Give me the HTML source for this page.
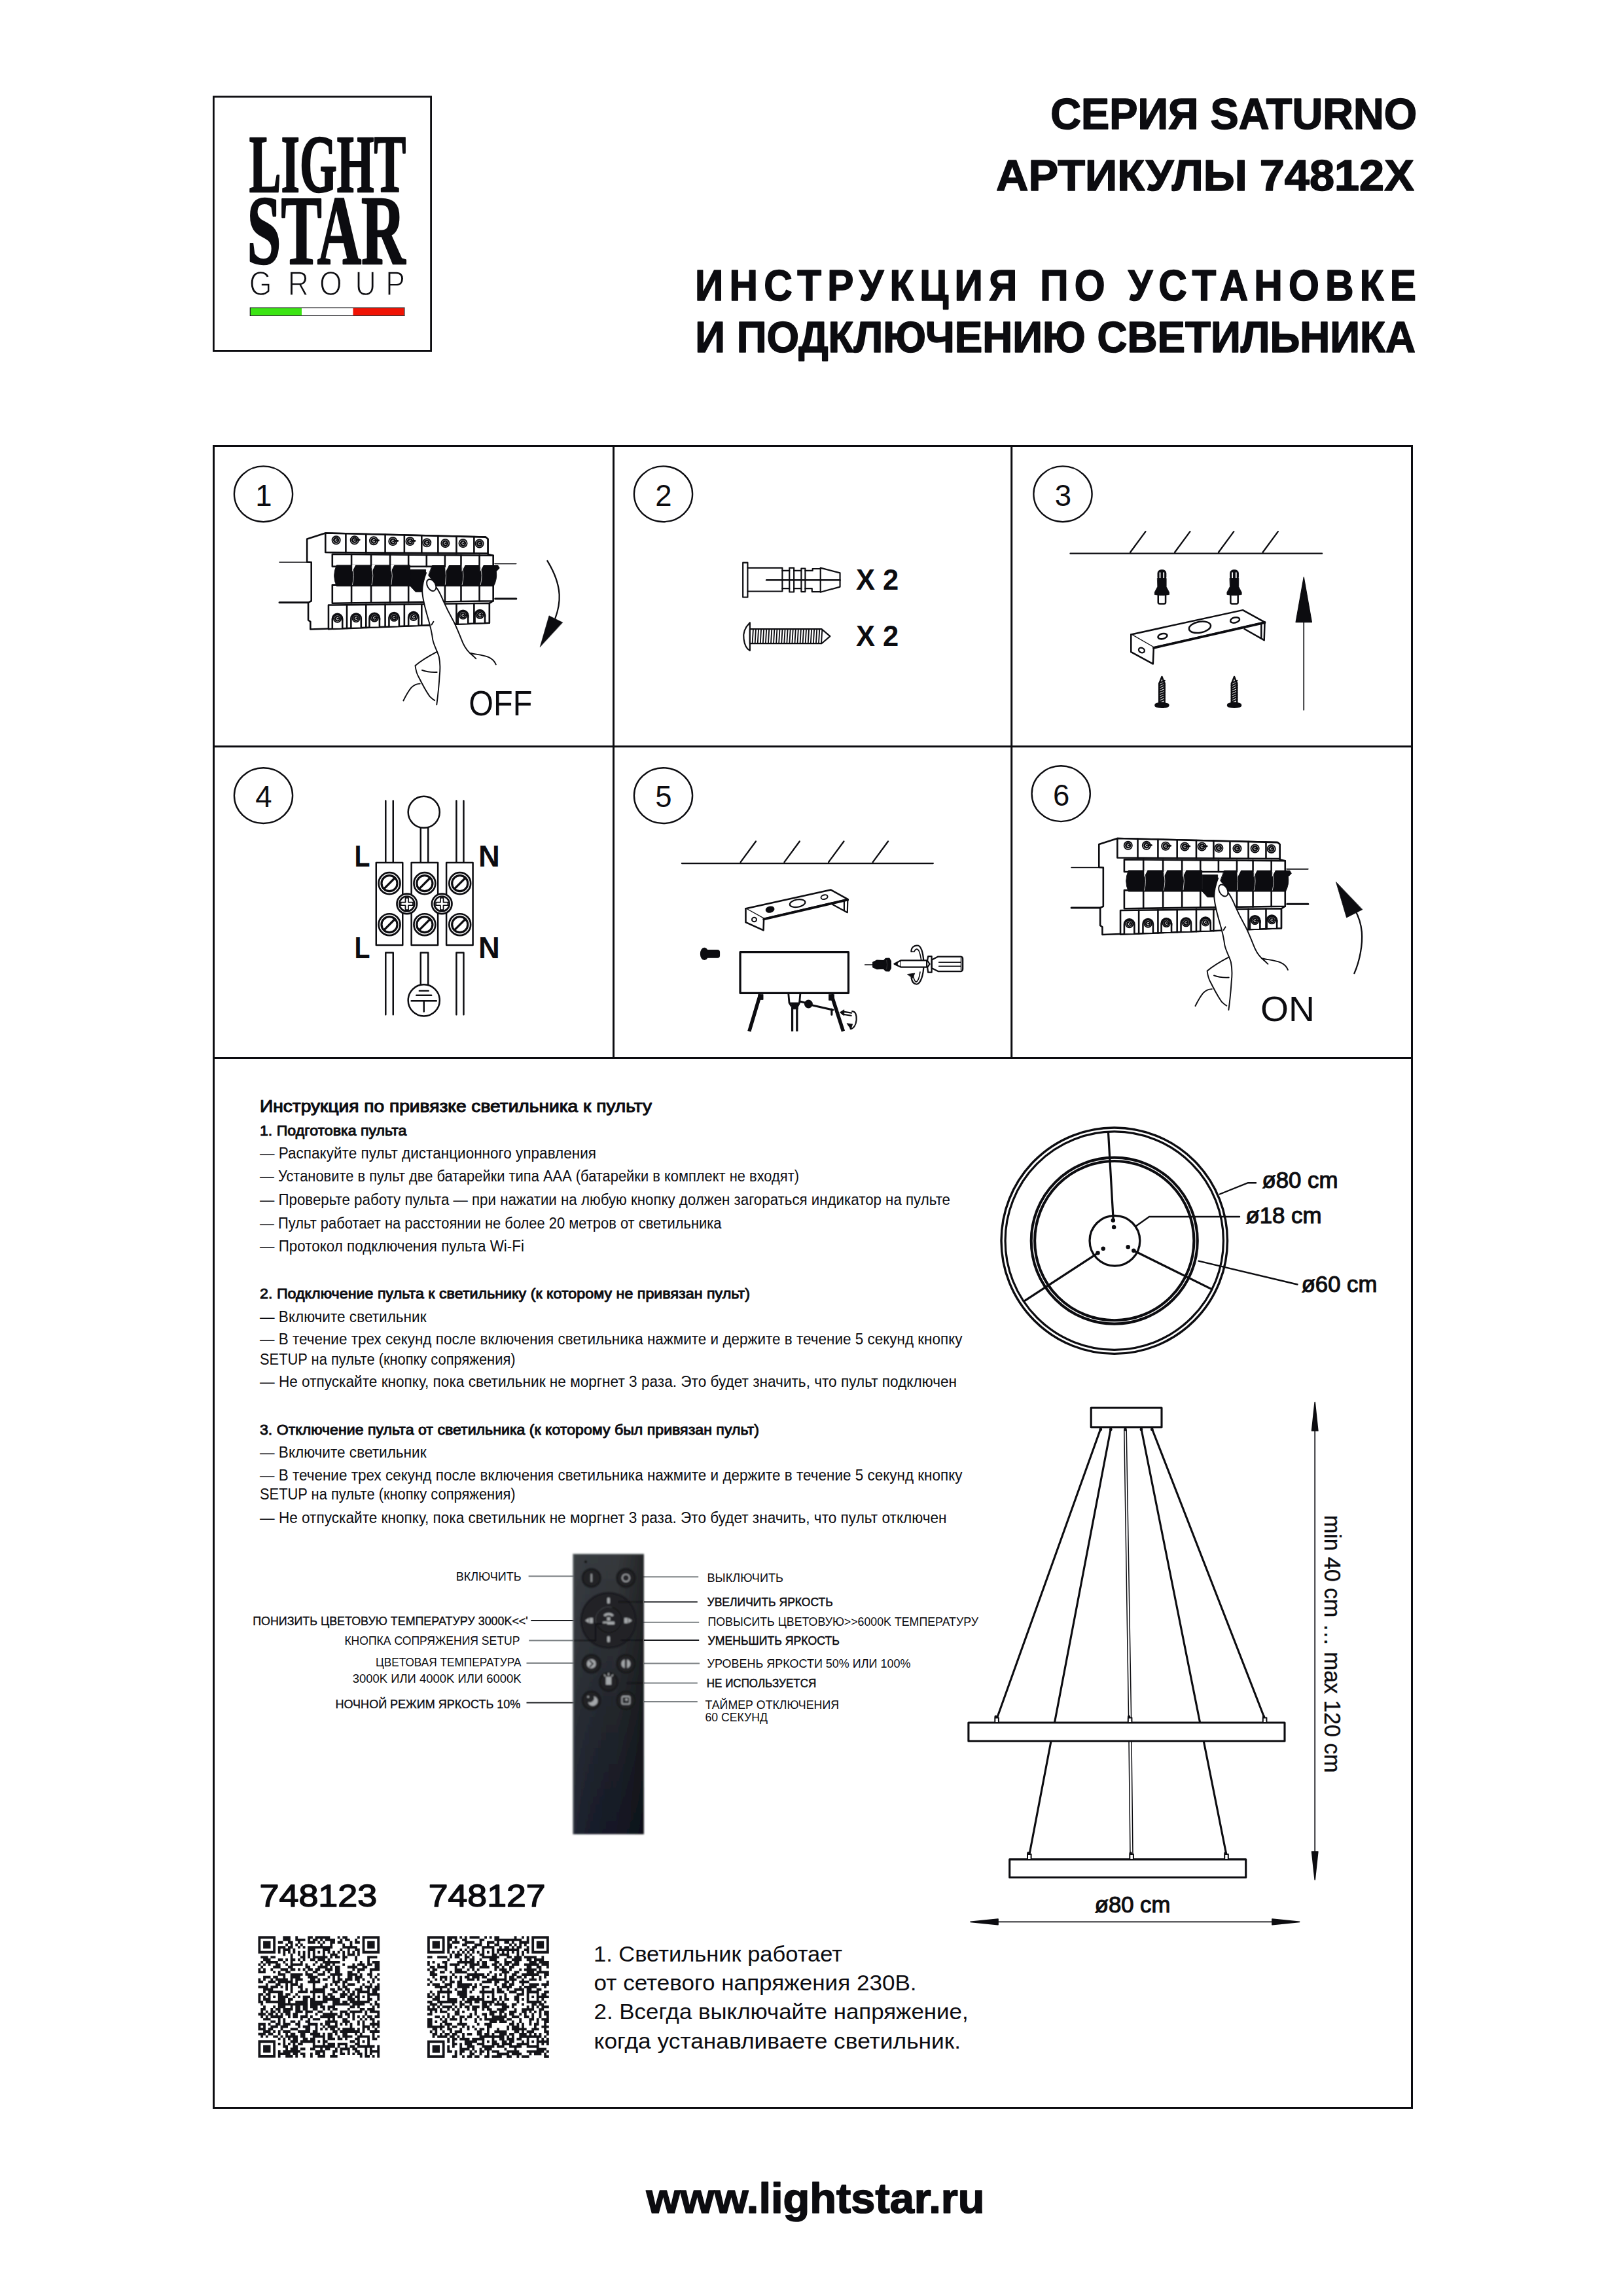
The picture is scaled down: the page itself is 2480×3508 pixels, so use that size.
<!DOCTYPE html>
<html lang="ru">
<head>
<meta charset="utf-8">
<title>Lightstar Saturno 74812X — инструкция по установке и подключению светильника</title>
<style>
html,body{margin:0;padding:0;background:#fff;}
body{width:2480px;height:3508px;overflow:hidden;}
svg{display:block;}
svg text{font-family:'Liberation Sans', sans-serif;fill:#0c0c10;white-space:pre;}
.ln{fill:none;stroke:#0c0c10;stroke-linecap:round;stroke-linejoin:round;}
</style>
</head>
<body>
<svg width="2480" height="3508" viewBox="0 0 2480 3508">
<rect width="2480" height="3508" fill="#fff"/>

<g id="logo">
<rect x="326.4" y="147.8" width="332.2" height="388.6" fill="#fff" stroke="#0c0c10" stroke-width="2.8"/>
<text x="380.8" y="293" font-size="125.5" font-weight="700" style="font-family:'Liberation Serif', serif" textLength="239.5" lengthAdjust="spacingAndGlyphs" stroke="#0c0c10" stroke-width="2.6" stroke-linejoin="round">LIGHT</text>
<text x="377.5" y="403.3" font-size="151" font-weight="700" style="font-family:'Liberation Serif', serif" textLength="242" lengthAdjust="spacingAndGlyphs" stroke="#0c0c10" stroke-width="2.6" stroke-linejoin="round">STAR</text>
<text transform="scale(0.85 1)" x="447.9 517.4 574.1 638.2 693.1" y="451" font-size="52.5" fill="#1a1a1a" stroke="#fff" stroke-width="1.5" paint-order="fill">GROUP</text>
<rect x="382.3" y="470.2" width="235.6" height="12.2" fill="#fff" stroke="#0c0c10" stroke-width="1.2"/>
<rect x="383" y="470.9" width="78" height="10.8" fill="#3be413"/>
<rect x="539.5" y="470.9" width="77.8" height="10.8" fill="#f01304"/>
</g>
<g id="header" font-weight="700" stroke="#0c0c10" stroke-width="1.6" stroke-linejoin="round">
<text x="2165.2" y="197" font-size="66" font-weight="700" text-anchor="end" textLength="560" lengthAdjust="spacingAndGlyphs">СЕРИЯ SATURNO</text>
<text x="2160.8" y="291.3" font-size="66" font-weight="700" text-anchor="end" textLength="638.8" lengthAdjust="spacingAndGlyphs">АРТИКУЛЫ 74812X</text>
<text x="2173" y="458.8" font-size="66" font-weight="700" text-anchor="end" textLength="1111" lengthAdjust="spacingAndGlyphs" letter-spacing="10">ИНСТРУКЦИЯ ПО УСТАНОВКЕ</text>
<text x="2163" y="538" font-size="66" font-weight="700" text-anchor="end" textLength="1100.8" lengthAdjust="spacingAndGlyphs">И ПОДКЛЮЧЕНИЮ СВЕТИЛЬНИКА</text>
</g>
<g id="frame" fill="none" stroke="#0c0c10" stroke-width="3">
<rect x="326.5" y="681.5" width="1831" height="2539"/>
<path d="M326.5 1140.4H2157.5M326.5 1616.4H2157.5M937.5 681.5V1616.4M1545.7 681.5V1616.4"/>
</g>
<g id="steps" fill="none" stroke="#0c0c10" stroke-width="2.4">
<ellipse cx="402.5" cy="754.8" rx="44.6" ry="42.4"/>
<ellipse cx="1013.5" cy="754.8" rx="44.6" ry="42.4"/>
<ellipse cx="1624" cy="754.8" rx="44.6" ry="42.4"/>
<ellipse cx="402.5" cy="1215.6" rx="44.6" ry="42.4"/>
<ellipse cx="1013.5" cy="1215.6" rx="44.6" ry="42.4"/>
<ellipse cx="1621.2" cy="1212.7" rx="44.6" ry="42.4"/>
</g>
<text x="403.0" y="772.5999999999999" font-size="45.5" text-anchor="middle" fill="#151515">1</text>
<text x="1014.0" y="772.5999999999999" font-size="45.5" text-anchor="middle" fill="#151515">2</text>
<text x="1624.5" y="772.5999999999999" font-size="45.5" text-anchor="middle" fill="#151515">3</text>
<text x="403.0" y="1233.3999999999999" font-size="45.5" text-anchor="middle" fill="#151515">4</text>
<text x="1014.0" y="1233.3999999999999" font-size="45.5" text-anchor="middle" fill="#151515">5</text>
<text x="1621.7" y="1230.5" font-size="45.5" text-anchor="middle" fill="#151515">6</text>
<g id="panel1">
<g transform="translate(420,800) scale(0.23414)" fill="none" stroke="#0c0c10" stroke-width="11" stroke-linejoin="round" stroke-linecap="round">
<path d="M30 252H238M1435 262H1575" stroke-width="7"/>
<path d="M30 515H222M1438 490H1575" stroke-width="13"/>
<path fill="#fff" d="M330 62L1375 88L1390 100V200L1425 208V505L1400 520V648L232 690V640L218 630V515L238 505V252L210 250V100Z"/>
<path fill="#fff" d="M330 62L1375 88L1390 100V195L330 188Z"/>
<path d="M463 65V189M595 69V190M720 72V191M845 75V191M958 78V192M1065 80V193M1185 83V194M1300 86V194"/>
<path fill="#fff" d="M375 200L1425 208V280H375Z"/>
<path d="M500 201V280M628 202V280M752 203V280M872 204V280M990 205V280M1110 206V280M1215 206V280M1335 207V280"/>
<path fill="#fff" d="M375 400H1425V505L375 520Z"/>
<path d="M500 400V518M628 400V516M752 400V515M872 400V513M990 400V511M1110 400V510M1215 400V508M1335 400V506"/>
<path fill="#0c0c10" stroke-width="4" d="M402 272Q372 340 402 408H882V272Z"/>
<path fill="#0c0c10" stroke-width="4" d="M884 300H985L978 445H918L884 408Z"/>
<path fill="#0c0c10" stroke-width="4" d="M1028 272H1455L1466 290L1445 312Q1452 362 1428 408H1045L1003 338Z"/>
<path fill="#fff" stroke="none" d="M505 268H528L505 314ZM633 268H656L633 314ZM757 268H780L757 314ZM1115 268H1138L1115 314ZM1220 268H1243L1220 314ZM1340 268H1363L1340 314Z"/>
<path stroke="#c9c9c9" stroke-width="4" d="M506 282Q522 340 506 400M632 282Q648 340 632 400M760 285Q772 340 760 398M1222 282Q1238 340 1222 400M1342 282Q1358 340 1342 400M1112 285Q1122 340 1112 398"/>
<path fill="#fff" d="M350 532L1400 520V648L350 688Z"/>
<path d="M470 531V683M595 529V679M720 528V674M845 526V669M958 525V665M1185 522V656M1300 521V652"/>
<circle cx="400" cy="108" r="26" fill="#fff" stroke-width="8"/>
<circle cx="400" cy="108" r="20" fill="#0c0c10" stroke="none"/>
<path d="M405 101a8 8 0 1 0 2 13" stroke="#fff" stroke-width="4"/>
<circle cx="520" cy="108" r="26" fill="#fff" stroke-width="8"/>
<circle cx="520" cy="108" r="20" fill="#0c0c10" stroke="none"/>
<path d="M530 106h22" stroke="#0c0c10" stroke-width="12"/>
<path d="M525 101a8 8 0 1 0 2 13" stroke="#fff" stroke-width="4"/>
<circle cx="645" cy="112" r="26" fill="#fff" stroke-width="8"/>
<circle cx="645" cy="112" r="20" fill="#0c0c10" stroke="none"/>
<path d="M655 110h22" stroke="#0c0c10" stroke-width="12"/>
<path d="M650 105a8 8 0 1 0 2 13" stroke="#fff" stroke-width="4"/>
<circle cx="770" cy="115" r="26" fill="#fff" stroke-width="8"/>
<circle cx="770" cy="115" r="20" fill="#0c0c10" stroke="none"/>
<path d="M780 113h22" stroke="#0c0c10" stroke-width="12"/>
<path d="M775 108a8 8 0 1 0 2 13" stroke="#fff" stroke-width="4"/>
<circle cx="882" cy="115" r="26" fill="#fff" stroke-width="8"/>
<circle cx="882" cy="115" r="20" fill="#0c0c10" stroke="none"/>
<path d="M892 113h22" stroke="#0c0c10" stroke-width="12"/>
<path d="M887 108a8 8 0 1 0 2 13" stroke="#fff" stroke-width="4"/>
<circle cx="992" cy="125" r="26" fill="#fff" stroke-width="8"/>
<circle cx="992" cy="125" r="20" fill="#0c0c10" stroke="none"/>
<path d="M997 118a8 8 0 1 0 2 13" stroke="#fff" stroke-width="4"/>
<circle cx="1112" cy="128" r="26" fill="#fff" stroke-width="8"/>
<circle cx="1112" cy="128" r="20" fill="#0c0c10" stroke="none"/>
<path d="M1117 121a8 8 0 1 0 2 13" stroke="#fff" stroke-width="4"/>
<circle cx="1228" cy="128" r="26" fill="#fff" stroke-width="8"/>
<circle cx="1228" cy="128" r="20" fill="#0c0c10" stroke="none"/>
<path d="M1233 121a8 8 0 1 0 2 13" stroke="#fff" stroke-width="4"/>
<circle cx="1335" cy="130" r="26" fill="#fff" stroke-width="8"/>
<circle cx="1335" cy="130" r="20" fill="#0c0c10" stroke="none"/>
<path d="M1340 123a8 8 0 1 0 2 13" stroke="#fff" stroke-width="4"/>
<path fill="#fff" d="M375 682V622A33 33 0 0 1 441 622V682"/>
<circle cx="408" cy="620" r="24" fill="#fff" stroke-width="8"/>
<circle cx="408" cy="620" r="19" fill="#0c0c10" stroke="none"/>
<path d="M413 613a8 8 0 1 0 2 13" stroke="#fff" stroke-width="4"/>
<path fill="#fff" d="M497 677V620A33 33 0 0 1 563 620V677"/>
<circle cx="530" cy="618" r="24" fill="#fff" stroke-width="8"/>
<circle cx="530" cy="618" r="19" fill="#0c0c10" stroke="none"/>
<path d="M535 611a8 8 0 1 0 2 13" stroke="#fff" stroke-width="4"/>
<path fill="#fff" d="M617 673V617A33 33 0 0 1 683 617V673"/>
<circle cx="650" cy="615" r="24" fill="#fff" stroke-width="8"/>
<circle cx="650" cy="615" r="19" fill="#0c0c10" stroke="none"/>
<path d="M660 615h24v14" stroke="#0c0c10" stroke-width="9"/>
<path d="M655 608a8 8 0 1 0 2 13" stroke="#fff" stroke-width="4"/>
<path fill="#fff" d="M745 668V614A33 33 0 0 1 811 614V668"/>
<circle cx="778" cy="612" r="24" fill="#fff" stroke-width="8"/>
<circle cx="778" cy="612" r="19" fill="#0c0c10" stroke="none"/>
<path d="M783 605a8 8 0 1 0 2 13" stroke="#fff" stroke-width="4"/>
<path fill="#fff" d="M872 663V610A33 33 0 0 1 938 610V663"/>
<circle cx="905" cy="608" r="24" fill="#fff" stroke-width="8"/>
<circle cx="905" cy="608" r="19" fill="#0c0c10" stroke="none"/>
<path d="M910 601a8 8 0 1 0 2 13" stroke="#fff" stroke-width="4"/>
<path fill="#fff" d="M1195 651V600A33 33 0 0 1 1261 600V651"/>
<circle cx="1228" cy="598" r="24" fill="#fff" stroke-width="8"/>
<circle cx="1228" cy="598" r="19" fill="#0c0c10" stroke="none"/>
<path d="M1238 598h24v14" stroke="#0c0c10" stroke-width="9"/>
<path d="M1233 591a8 8 0 1 0 2 13" stroke="#fff" stroke-width="4"/>
<path fill="#fff" d="M1305 646V597A33 33 0 0 1 1371 597V646"/>
<circle cx="1338" cy="595" r="24" fill="#fff" stroke-width="8"/>
<circle cx="1338" cy="595" r="19" fill="#0c0c10" stroke="none"/>
<path d="M1348 595h24v14" stroke="#0c0c10" stroke-width="9"/>
<path d="M1343 588a8 8 0 1 0 2 13" stroke="#fff" stroke-width="4"/>
</g>
<g transform="translate(600,860) scale(0.17253)" fill="none" stroke="#0c0c10" stroke-width="11" stroke-linejoin="round" stroke-linecap="round">
<path fill="#fff" stroke="none" d="M295 95L270 180L262 250L285 390L310 480L340 570L355 680L385 760L640 750L610 680L575 590L530 500L480 410L450 340L420 270L385 215L350 150Z"/>
<path d="M296 88C280 130 262 190 262 250C264 310 290 410 310 480C325 530 345 600 355 680C365 730 395 780 410 830C420 880 420 960 415 1000C412 1060 400 1180 390 1255"/>
<path d="M345 548L362 520"/>
<path d="M385 215C400 235 430 290 450 340C470 385 505 455 530 500C550 535 590 630 610 680C625 720 640 755 680 795C700 812 720 830 738 848"/>
<path d="M690 800C730 810 800 815 850 835C880 848 905 875 915 900"/>
<ellipse cx="343" cy="197" rx="36" ry="56" transform="rotate(-28 343 197)" fill="#fff"/>
<path d="M392 788C350 810 260 860 200 910C205 950 215 985 230 1010C250 1050 290 1130 330 1185C345 1200 360 1212 372 1218"/>
<path d="M260 950C290 962 340 970 392 968"/>
<path d="M95 1220C110 1190 135 1140 165 1105C185 1085 215 1070 242 1070"/>
</g>
<g transform="translate(600,860) scale(0.17253)" stroke="#0c0c10" stroke-width="13" fill="none" stroke-linecap="round"><path d="M1370 -18C1430 80 1470 180 1476 280C1480 360 1462 430 1440 490"/><path d="M1305 745L1385 468L1505 527Z" fill="#0c0c10" stroke-width="3" stroke-linejoin="round"/></g>
<text x="716.3" y="1092.9" font-size="53" textLength="97" lengthAdjust="spacingAndGlyphs" fill="#151515">OFF</text>
</g>
<g id="panel2">
<g transform="translate(1120,840) scale(0.17253)" fill="none" stroke="#0c0c10" stroke-width="12.5" stroke-linejoin="round" stroke-linecap="round">
<rect x="88" y="114" width="42" height="306" fill="#fff"/>
<path d="M130 160H437V185H500M130 368H437V343H500M540 185H605M540 343H605M640 185H705V168H775M640 343H700V372H775" />
<rect x="500" y="160" width="40" height="214" />
<rect x="605" y="165" width="35" height="207" />
<path d="M437 185V343M775 160V375M775 160L948 205V328L775 375"/>
<path d="M297 268H948" stroke-width="15"/>
<path fill="#fff" d="M150 645C105 690 88 740 96 790C102 840 122 878 150 893Z"/>
<path fill="#fff" d="M150 702H785L860 766L785 830H150Z"/>
<path d="M179 708L172 824M202.5 708L195.5 824M226.0 708L219.0 824M249.5 708L242.5 824M273.0 708L266.0 824M296.5 708L289.5 824M320.0 708L313.0 824M343.5 708L336.5 824M367.0 708L360.0 824M390.5 708L383.5 824M414.0 708L407.0 824M437.5 708L430.5 824M461.0 708L454.0 824M484.5 708L477.5 824M508.0 708L501.0 824M531.5 708L524.5 824M555.0 708L548.0 824M578.5 708L571.5 824M602.0 708L595.0 824M625.5 708L618.5 824M649.0 708L642.0 824M672.5 708L665.5 824M696.0 708L689.0 824M719.5 708L712.5 824M743.0 708L736.0 824M766.5 708L759.5 824M790.0 708L783.0 824" stroke-width="10.5"/>
</g>
<text x="1308" y="901.2" font-size="44.6" font-weight="700" textLength="65.3" lengthAdjust="spacingAndGlyphs" fill="#151515">X 2</text>
<text x="1308" y="986.7" font-size="44.6" font-weight="700" textLength="65.3" lengthAdjust="spacingAndGlyphs" fill="#151515">X 2</text>
</g>
<g id="panel3">
<g transform="translate(1540,670) scale(0.38197)" fill="none" stroke="#0c0c10" stroke-width="6" stroke-linecap="round">
<path d="M250 460H1257M490 455l61 -83M668 455l61 -83M843 455l61 -83M1020 455l61 -83"/></g>
<g transform="translate(1700,850) scale(0.20949)" fill="none" stroke="#0c0c10" stroke-width="12" stroke-linejoin="round" stroke-linecap="round">
<rect x="327" y="97" width="66" height="80" rx="27" fill="#0c0c10" stroke="none"/>
<rect x="342" y="116" width="8.5" height="47" rx="4" fill="#fff" stroke="none"/><rect x="369" y="116" width="8.5" height="47" rx="4" fill="#fff" stroke="none"/>
<path fill="#0c0c10" stroke-width="4" d="M328 160H392V222L413 262V279Q360 292 307 279V262L328 222Z"/>
<path fill="#fff" d="M333 287V335Q333 346 344 346H376Q387 346 387 335V287"/>
<path fill="#fff" d="M360 878L380 930V1068H340V930Z"/>
<path d="M340 925L380 907M340 942L380 924M340 959L380 941M340 976L380 958M340 993L380 975M340 1010L380 992M340 1027L380 1009M340 1044L380 1026M340 1061L380 1043" stroke-width="11.5"/>
<ellipse cx="360" cy="1086" rx="48" ry="15" fill="#0c0c10"/>
<rect x="855" y="97" width="66" height="80" rx="27" fill="#0c0c10" stroke="none"/>
<rect x="870" y="116" width="8.5" height="47" rx="4" fill="#fff" stroke="none"/><rect x="897" y="116" width="8.5" height="47" rx="4" fill="#fff" stroke="none"/>
<path fill="#0c0c10" stroke-width="4" d="M856 160H920V222L941 262V279Q888 292 835 279V262L856 222Z"/>
<path fill="#fff" d="M861 287V335Q861 346 872 346H904Q915 346 915 335V287"/>
<path fill="#fff" d="M888 878L908 930V1068H868V930Z"/>
<path d="M868 925L908 907M868 942L908 924M868 959L908 941M868 976L908 958M868 993L908 975M868 1010L908 992M868 1027L908 1009M868 1044L908 1026M868 1061L908 1043" stroke-width="11.5"/>
<ellipse cx="888" cy="1086" rx="48" ry="15" fill="#0c0c10"/>
<path fill="#fff" d="M135 570L950 392L1110 480L300 665Z"/>
<path fill="#fff" d="M135 570V698L295 785L300 665"/>
<path d="M300 668L1110 483" stroke-width="17"/>
<path d="M1110 480L1106 612L962 530M1085 497V596" />
<ellipse cx="365" cy="583" rx="34" ry="19" transform="rotate(-14 365 583)" stroke-width="12"/>
<ellipse cx="637" cy="517" rx="80" ry="40" transform="rotate(-10 637 517)" stroke-width="12"/>
<ellipse cx="893" cy="465" rx="34" ry="19" transform="rotate(-14 893 465)" stroke-width="12"/>
<ellipse cx="212" cy="685" rx="22" ry="17" transform="rotate(25 212 685)" stroke-width="11"/>
<path d="M1395 470V1120" stroke-width="8"/>
<path d="M1395 152L1337 480H1453Z" fill="#0c0c10" stroke-width="6"/>
</g></g>
<g id="panel4">
<g transform="translate(320,1130) scale(0.38197)" fill="none" stroke="#0c0c10" stroke-width="6.5" stroke-linejoin="round" stroke-linecap="round">
<path d="M705 245V492M735 245V492M988 245V492M1017 245V492M845 350V492M875 350V492"/>
<circle cx="858" cy="290" r="63" fill="#fff"/>
<rect x="667" y="492" width="106" height="330" fill="#fff"/>
<rect x="808" y="492" width="106" height="330" fill="#fff"/>
<rect x="948" y="492" width="106" height="330" fill="#fff"/>
<path d="M705 1100V852H735V1100M988 1100V852H1017V1100M845 985V852H875V985"/>
<circle cx="720" cy="575" r="43" fill="#fff" stroke-width="7"/>
<circle cx="720" cy="575" r="31.5" stroke-width="8.5"/>
<path d="M698 597L742 553" stroke-width="8.5"/>
<circle cx="720" cy="740" r="43" fill="#fff" stroke-width="7"/>
<circle cx="720" cy="740" r="31.5" stroke-width="8.5"/>
<path d="M698 762L742 718" stroke-width="8.5"/>
<circle cx="861" cy="575" r="43" fill="#fff" stroke-width="7"/>
<circle cx="861" cy="575" r="31.5" stroke-width="8.5"/>
<path d="M839 597L883 553" stroke-width="8.5"/>
<circle cx="861" cy="740" r="43" fill="#fff" stroke-width="7"/>
<circle cx="861" cy="740" r="31.5" stroke-width="8.5"/>
<path d="M839 762L883 718" stroke-width="8.5"/>
<circle cx="1002" cy="575" r="43" fill="#fff" stroke-width="7"/>
<circle cx="1002" cy="575" r="31.5" stroke-width="8.5"/>
<path d="M980 597L1024 553" stroke-width="8.5"/>
<circle cx="1002" cy="740" r="43" fill="#fff" stroke-width="7"/>
<circle cx="1002" cy="740" r="31.5" stroke-width="8.5"/>
<path d="M980 762L1024 718" stroke-width="8.5"/>
<circle cx="790" cy="657" r="40" fill="#fff" stroke-width="7"/>
<circle cx="790" cy="657" r="30" stroke-width="7"/>
<path d="M784 633h12v18h18v12h-18v18h-12v-18h-18v-12h18z" stroke-width="4.5"/>
<circle cx="930" cy="657" r="40" fill="#fff" stroke-width="7"/>
<circle cx="930" cy="657" r="30" stroke-width="7"/>
<path d="M924 633h12v18h18v12h-18v18h-12v-18h-18v-12h18z" stroke-width="4.5"/>
<circle cx="858" cy="1043" r="63" fill="#fff"/>
<path d="M840 1005H876M828 1023H888M808 1045H908M858 1045V1088"/>
</g>
<text x="541.5" y="1323.7" font-size="45.4" font-weight="700" textLength="24" lengthAdjust="spacingAndGlyphs">L</text>
<text x="541.5" y="1464.2" font-size="45.4" font-weight="700" textLength="24" lengthAdjust="spacingAndGlyphs">L</text>
<text x="731" y="1323.7" font-size="45.4" font-weight="700">N</text>
<text x="731" y="1464.2" font-size="45.4" font-weight="700">N</text>
</g>
<g id="panel5">
<g transform="translate(930,1130) scale(0.38197)" fill="none" stroke="#0c0c10" stroke-width="6" stroke-linecap="round">
<path d="M293 495H1298M528 490l61 -83M703 490l61 -83M880 490l61 -83M1057 490l61 -83"/></g>
<g transform="translate(1050,1340) scale(0.27111)" fill="none" stroke="#0c0c10" stroke-width="9.5" stroke-linejoin="round" stroke-linecap="round">
<path fill="#fff" d="M330 178L810 72L905 125L432 235Z"/>
<path fill="#fff" d="M330 178V255L430 300L432 235"/>
<path d="M905 125L903 200L820 155M885 137V190" stroke-width="8"/>
<path d="M432 238L905 128" stroke-width="13"/>
<ellipse cx="467" cy="183" rx="21" ry="14" transform="rotate(-14 467 183)" fill="#0c0c10"/>
<ellipse cx="622" cy="148" rx="44" ry="21" transform="rotate(-10 622 148)" stroke-width="8"/>
<ellipse cx="773" cy="113" rx="19" ry="12" transform="rotate(-14 773 113)" stroke-width="7"/>
<ellipse cx="378" cy="240" rx="13" ry="12" stroke-width="7"/>
<rect x="299" y="423" width="610" height="231" fill="#fff" stroke-width="12"/>
</g>
<g transform="translate(1120,1500) scale(0.12939)" fill="none" stroke="#0c0c10" stroke-width="24" stroke-linejoin="round" stroke-linecap="butt">
<path d="M322 150L192 585M1162 150L1302 585" stroke-width="42"/>
<path d="M300 150h56v62h-56zM1132 150h62v68h-62z" fill="#0c0c10" stroke-width="6"/>
<path d="M655 140L665 250L692 292M795 140L785 250L762 292M672 255H782" stroke-width="22"/>
<path d="M694 262h72v60h-72z" fill="#0c0c10" stroke-width="8"/>
<path d="M700 300V585M756 300V585" stroke-width="25"/>
<path d="M790 232L860 250M940 278L1180 332M1166 325V388" stroke-width="24" stroke-linecap="round"/>
<ellipse cx="892" cy="263" rx="50" ry="50" fill="#0c0c10" stroke="none"/>
<path d="M1300 352L1400 368M1296 384L1396 400M1408 348C1450 350 1462 400 1458 450C1452 510 1425 552 1388 556" stroke-width="17" stroke-linecap="round"/>
<path d="M1262 362L1312 330V400Z" fill="#0c0c10" stroke-width="6"/>
<path d="M1345 492L1412 500L1392 560Z" fill="#0c0c10" stroke-width="6"/>
</g>
<g transform="translate(1050,1340) scale(0.27111)" fill="none" stroke="#0c0c10" stroke-width="9.5" stroke-linejoin="round" stroke-linecap="round">
<ellipse cx="97" cy="433" rx="19" ry="31" fill="#0c0c10"/>
<rect x="100" y="414" width="80" height="38" rx="10" fill="#0c0c10"/>
</g>
<g transform="translate(1300,1430) scale(0.11707)" fill="none" stroke="#0c0c10" stroke-width="19" stroke-linejoin="round" stroke-linecap="round">
<path d="M185 375H295" stroke-width="13"/>
<path fill="#0c0c10" d="M292 345L340 322L430 326L458 297L500 295L520 330V420L500 455L458 453L430 424L340 428L292 405Z"/>
<path d="M468 318q14 56 0 116" stroke="#4a4a4a" stroke-width="6"/>
<path d="M790 205C788 150 830 116 882 126C928 142 952 260 952 380C950 500 915 622 860 630C820 630 798 592 790 545"/>
<path d="M790 205H828C845 165 872 158 892 200C915 262 926 330 921 400M905 470C896 540 876 592 852 602C835 590 822 560 815 520" stroke-width="14"/>
<path d="M742 500L835 488L808 548Z" fill="#0c0c10" stroke-width="8"/>
<path fill="#fff" d="M568 366L652 320H992V406H652Z"/>
<path fill="#0c0c10" d="M568 366L610 344V390Z" stroke-width="6"/>
<path d="M652 320V406" stroke-width="9"/>
<path fill="#fff" d="M1010 265H1056V476H1010L1000 410L1030 366L1000 322Z"/>
<path fill="#fff" d="M1058 312L1140 270H1436Q1462 272 1462 300V432Q1462 460 1436 462H1140L1058 420Z"/>
<path d="M1150 344H1440M1150 396H1440M1440 290V442" stroke-width="13"/>
</g></g>
<g id="panel6">
<g transform="translate(1630.1,1266.5) scale(0.23414)" fill="none" stroke="#0c0c10" stroke-width="11" stroke-linejoin="round" stroke-linecap="round">
<path d="M30 252H238M1435 262H1575" stroke-width="7"/>
<path d="M30 515H222M1438 490H1575" stroke-width="13"/>
<path fill="#fff" d="M330 62L1375 88L1390 100V200L1425 208V505L1400 520V648L232 690V640L218 630V515L238 505V252L210 250V100Z"/>
<path fill="#fff" d="M330 62L1375 88L1390 100V195L330 188Z"/>
<path d="M463 65V189M595 69V190M720 72V191M845 75V191M958 78V192M1065 80V193M1185 83V194M1300 86V194"/>
<path fill="#fff" d="M375 200L1425 208V280H375Z"/>
<path d="M500 201V280M628 202V280M752 203V280M872 204V280M990 205V280M1110 206V280M1215 206V280M1335 207V280"/>
<path fill="#fff" d="M375 400H1425V505L375 520Z"/>
<path d="M500 400V518M628 400V516M752 400V515M872 400V513M990 400V511M1110 400V510M1215 400V508M1335 400V506"/>
<path fill="#0c0c10" stroke-width="4" d="M402 272Q372 340 402 408H882V272Z"/>
<path fill="#0c0c10" stroke-width="4" d="M884 300H985L978 445H918L884 408Z"/>
<path fill="#0c0c10" stroke-width="4" d="M1028 272H1455L1466 290L1445 312Q1452 362 1428 408H1045L1003 338Z"/>
<path fill="#fff" stroke="none" d="M505 268H528L505 314ZM633 268H656L633 314ZM757 268H780L757 314ZM1115 268H1138L1115 314ZM1220 268H1243L1220 314ZM1340 268H1363L1340 314Z"/>
<path stroke="#c9c9c9" stroke-width="4" d="M506 282Q522 340 506 400M632 282Q648 340 632 400M760 285Q772 340 760 398M1222 282Q1238 340 1222 400M1342 282Q1358 340 1342 400M1112 285Q1122 340 1112 398"/>
<path fill="#fff" d="M350 532L1400 520V648L350 688Z"/>
<path d="M470 531V683M595 529V679M720 528V674M845 526V669M958 525V665M1185 522V656M1300 521V652"/>
<circle cx="400" cy="108" r="26" fill="#fff" stroke-width="8"/>
<circle cx="400" cy="108" r="20" fill="#0c0c10" stroke="none"/>
<path d="M405 101a8 8 0 1 0 2 13" stroke="#fff" stroke-width="4"/>
<circle cx="520" cy="108" r="26" fill="#fff" stroke-width="8"/>
<circle cx="520" cy="108" r="20" fill="#0c0c10" stroke="none"/>
<path d="M530 106h22" stroke="#0c0c10" stroke-width="12"/>
<path d="M525 101a8 8 0 1 0 2 13" stroke="#fff" stroke-width="4"/>
<circle cx="645" cy="112" r="26" fill="#fff" stroke-width="8"/>
<circle cx="645" cy="112" r="20" fill="#0c0c10" stroke="none"/>
<path d="M655 110h22" stroke="#0c0c10" stroke-width="12"/>
<path d="M650 105a8 8 0 1 0 2 13" stroke="#fff" stroke-width="4"/>
<circle cx="770" cy="115" r="26" fill="#fff" stroke-width="8"/>
<circle cx="770" cy="115" r="20" fill="#0c0c10" stroke="none"/>
<path d="M780 113h22" stroke="#0c0c10" stroke-width="12"/>
<path d="M775 108a8 8 0 1 0 2 13" stroke="#fff" stroke-width="4"/>
<circle cx="882" cy="115" r="26" fill="#fff" stroke-width="8"/>
<circle cx="882" cy="115" r="20" fill="#0c0c10" stroke="none"/>
<path d="M892 113h22" stroke="#0c0c10" stroke-width="12"/>
<path d="M887 108a8 8 0 1 0 2 13" stroke="#fff" stroke-width="4"/>
<circle cx="992" cy="125" r="26" fill="#fff" stroke-width="8"/>
<circle cx="992" cy="125" r="20" fill="#0c0c10" stroke="none"/>
<path d="M997 118a8 8 0 1 0 2 13" stroke="#fff" stroke-width="4"/>
<circle cx="1112" cy="128" r="26" fill="#fff" stroke-width="8"/>
<circle cx="1112" cy="128" r="20" fill="#0c0c10" stroke="none"/>
<path d="M1117 121a8 8 0 1 0 2 13" stroke="#fff" stroke-width="4"/>
<circle cx="1228" cy="128" r="26" fill="#fff" stroke-width="8"/>
<circle cx="1228" cy="128" r="20" fill="#0c0c10" stroke="none"/>
<path d="M1233 121a8 8 0 1 0 2 13" stroke="#fff" stroke-width="4"/>
<circle cx="1335" cy="130" r="26" fill="#fff" stroke-width="8"/>
<circle cx="1335" cy="130" r="20" fill="#0c0c10" stroke="none"/>
<path d="M1340 123a8 8 0 1 0 2 13" stroke="#fff" stroke-width="4"/>
<path fill="#fff" d="M375 682V622A33 33 0 0 1 441 622V682"/>
<circle cx="408" cy="620" r="24" fill="#fff" stroke-width="8"/>
<circle cx="408" cy="620" r="19" fill="#0c0c10" stroke="none"/>
<path d="M413 613a8 8 0 1 0 2 13" stroke="#fff" stroke-width="4"/>
<path fill="#fff" d="M497 677V620A33 33 0 0 1 563 620V677"/>
<circle cx="530" cy="618" r="24" fill="#fff" stroke-width="8"/>
<circle cx="530" cy="618" r="19" fill="#0c0c10" stroke="none"/>
<path d="M535 611a8 8 0 1 0 2 13" stroke="#fff" stroke-width="4"/>
<path fill="#fff" d="M617 673V617A33 33 0 0 1 683 617V673"/>
<circle cx="650" cy="615" r="24" fill="#fff" stroke-width="8"/>
<circle cx="650" cy="615" r="19" fill="#0c0c10" stroke="none"/>
<path d="M660 615h24v14" stroke="#0c0c10" stroke-width="9"/>
<path d="M655 608a8 8 0 1 0 2 13" stroke="#fff" stroke-width="4"/>
<path fill="#fff" d="M745 668V614A33 33 0 0 1 811 614V668"/>
<circle cx="778" cy="612" r="24" fill="#fff" stroke-width="8"/>
<circle cx="778" cy="612" r="19" fill="#0c0c10" stroke="none"/>
<path d="M783 605a8 8 0 1 0 2 13" stroke="#fff" stroke-width="4"/>
<path fill="#fff" d="M872 663V610A33 33 0 0 1 938 610V663"/>
<circle cx="905" cy="608" r="24" fill="#fff" stroke-width="8"/>
<circle cx="905" cy="608" r="19" fill="#0c0c10" stroke="none"/>
<path d="M910 601a8 8 0 1 0 2 13" stroke="#fff" stroke-width="4"/>
<path fill="#fff" d="M1195 651V600A33 33 0 0 1 1261 600V651"/>
<circle cx="1228" cy="598" r="24" fill="#fff" stroke-width="8"/>
<circle cx="1228" cy="598" r="19" fill="#0c0c10" stroke="none"/>
<path d="M1238 598h24v14" stroke="#0c0c10" stroke-width="9"/>
<path d="M1233 591a8 8 0 1 0 2 13" stroke="#fff" stroke-width="4"/>
<path fill="#fff" d="M1305 646V597A33 33 0 0 1 1371 597V646"/>
<circle cx="1338" cy="595" r="24" fill="#fff" stroke-width="8"/>
<circle cx="1338" cy="595" r="19" fill="#0c0c10" stroke="none"/>
<path d="M1348 595h24v14" stroke="#0c0c10" stroke-width="9"/>
<path d="M1343 588a8 8 0 1 0 2 13" stroke="#fff" stroke-width="4"/>
</g>
<g transform="translate(1810.1,1326.5) scale(0.17253)" fill="none" stroke="#0c0c10" stroke-width="11" stroke-linejoin="round" stroke-linecap="round">
<path fill="#fff" stroke="none" d="M295 95L270 180L262 250L285 390L310 480L340 570L355 680L385 760L640 750L610 680L575 590L530 500L480 410L450 340L420 270L385 215L350 150Z"/>
<path d="M296 88C280 130 262 190 262 250C264 310 290 410 310 480C325 530 345 600 355 680C365 730 395 780 410 830C420 880 420 960 415 1000C412 1060 400 1180 390 1255"/>
<path d="M345 548L362 520"/>
<path d="M385 215C400 235 430 290 450 340C470 385 505 455 530 500C550 535 590 630 610 680C625 720 640 755 680 795C700 812 720 830 738 848"/>
<path d="M690 800C730 810 800 815 850 835C880 848 905 875 915 900"/>
<ellipse cx="343" cy="197" rx="36" ry="56" transform="rotate(-28 343 197)" fill="#fff"/>
<path d="M392 788C350 810 260 860 200 910C205 950 215 985 230 1010C250 1050 290 1130 330 1185C345 1200 360 1212 372 1218"/>
<path d="M260 950C290 962 340 970 392 968"/>
<path d="M95 1220C110 1190 135 1140 165 1105C185 1085 215 1070 242 1070"/>
</g>
<g transform="translate(1540,1130) scale(0.38197)" stroke="#0c0c10" stroke-width="6" fill="none" stroke-linecap="round"><path d="M1386 935C1408 885 1420 820 1416 770C1413 735 1402 705 1388 680"/><path d="M1313 570L1355 712L1418 680Z" fill="#0c0c10" stroke-width="2" stroke-linejoin="round"/></g>
<text x="1926" y="1559.7" font-size="53" textLength="83" lengthAdjust="spacingAndGlyphs" fill="#151515">ON</text>
</g>
<g id="rings">
<g transform="translate(1480,1680) scale(0.43129)" fill="none" stroke="#0c0c10" stroke-width="6.5" stroke-linecap="round">
<circle cx="516.5" cy="500" r="400.5" stroke-width="8"/>
<circle cx="516.5" cy="500" r="386.5" stroke-width="7.5"/>
<circle cx="516.5" cy="500" r="294.5" stroke-width="9.5"/>
<circle cx="516.5" cy="500" r="282" stroke-width="9.5"/>
<circle cx="518" cy="500" r="89" stroke-width="7.5"/>
<path d="M495 116L513 430M456 545L200 712M585 535L862 672" stroke-width="7.5"/>
<circle cx="512" cy="428" r="7.5" fill="#0c0c10" stroke="none"/>
<circle cx="515" cy="452" r="7.5" fill="#0c0c10" stroke="none"/>
<circle cx="477" cy="528" r="7.5" fill="#0c0c10" stroke="none"/>
<circle cx="458" cy="543" r="7.5" fill="#0c0c10" stroke="none"/>
<circle cx="565" cy="522" r="7.5" fill="#0c0c10" stroke="none"/>
<circle cx="585" cy="535" r="7.5" fill="#0c0c10" stroke="none"/>
<path d="M890 335L990 295H1018M595 447L640 415H960M815 572L1165 655" stroke-width="5.5"/>
</g>
<text x="1928.5" y="1815.1" font-size="34.5" textLength="116" lengthAdjust="spacingAndGlyphs" fill="#121214" stroke="#121214" stroke-width="1.15" stroke-linejoin="round">ø80 cm</text>
<text x="1903.4" y="1869.4" font-size="34.5" textLength="116" lengthAdjust="spacingAndGlyphs" fill="#121214" stroke="#121214" stroke-width="1.15" stroke-linejoin="round">ø18 cm</text>
<text x="1988.7" y="1973.8" font-size="34.5" textLength="115.6" lengthAdjust="spacingAndGlyphs" fill="#121214" stroke="#121214" stroke-width="1.15" stroke-linejoin="round">ø60 cm</text>
</g>
<g id="pendant">
<g fill="none" stroke="#0c0c10" stroke-width="3.1" stroke-linecap="round" stroke-linejoin="round">
<path d="M1681.8 2183L1523.1 2626M1697.3 2183L1572.8 2834M1743.9 2183L1874 2834M1760.3 2183L1932.6 2626"/>
<path d="M1717.8 2185L1724.6 2626M1721.2 2185L1728.6 2626M1725 2660L1727 2834M1729 2660L1731 2834" stroke-width="1.5"/>
<rect x="1667.2" y="2151" width="107.8" height="29.8" fill="#fff"/>
<circle cx="1681.8" cy="2184" r="2.4" fill="#0c0c10" stroke="none"/>
<circle cx="1697.3" cy="2184" r="2.4" fill="#0c0c10" stroke="none"/>
<circle cx="1719.5" cy="2184" r="2.4" fill="#0c0c10" stroke="none"/>
<circle cx="1743.9" cy="2184" r="2.4" fill="#0c0c10" stroke="none"/>
<circle cx="1760.3" cy="2184" r="2.4" fill="#0c0c10" stroke="none"/>
<rect x="1479.9" y="2632" width="483.1" height="28.2" fill="#fff"/>
<rect x="1542.7" y="2840.9" width="361" height="27.6" fill="#fff"/>
<rect x="1520.3" y="2624.5" width="5.6" height="7.5" fill="#fff" stroke-width="2"/>
<circle cx="1521.6" cy="2623" r="2.2" fill="#0c0c10" stroke="none"/>
<rect x="1723.8" y="2624.5" width="5.6" height="7.5" fill="#fff" stroke-width="2"/>
<circle cx="1725.1" cy="2623" r="2.2" fill="#0c0c10" stroke="none"/>
<rect x="1929.8" y="2624.5" width="5.6" height="7.5" fill="#fff" stroke-width="2"/>
<circle cx="1931.1" cy="2623" r="2.2" fill="#0c0c10" stroke="none"/>
<rect x="1570.0" y="2833" width="5.6" height="7.9" fill="#fff" stroke-width="2"/>
<circle cx="1571.3" cy="2831.5" r="2.2" fill="#0c0c10" stroke="none"/>
<rect x="1726.3" y="2833" width="5.6" height="7.9" fill="#fff" stroke-width="2"/>
<circle cx="1727.6" cy="2831.5" r="2.2" fill="#0c0c10" stroke="none"/>
<rect x="1871.2" y="2833" width="5.6" height="7.9" fill="#fff" stroke-width="2"/>
<circle cx="1872.5" cy="2831.5" r="2.2" fill="#0c0c10" stroke="none"/>
</g>
<g stroke="#0c0c10" stroke-width="1.7" fill="#0c0c10" stroke-linejoin="round">
<path d="M2009.2 2180V2834" fill="none"/>
<path d="M2009.2 2142.5L2004.6 2186H2013.8ZM2009.2 2872L2004.6 2829H2013.8Z"/>
<path d="M1522 2936.3H1946" fill="none"/>
<path d="M1483 2936.3L1525 2932V2940.6ZM1985.7 2936.3L1944 2932V2940.6Z"/>
</g>
<text x="1672.8" y="2922.2" font-size="34.5" textLength="115.5" lengthAdjust="spacingAndGlyphs" fill="#121214" stroke="#121214" stroke-width="1.15" stroke-linejoin="round">ø80 cm</text>
<text transform="translate(2023.7 2315) rotate(90)" font-size="35.5" textLength="393.5" lengthAdjust="spacingAndGlyphs" fill="#121214" stroke="#121214" stroke-width="0.35">min 40 cm … max 120 cm</text>
</g>
<g id="remote">
<defs>
<linearGradient id="rg" x1="0" y1="0" x2="0" y2="1"><stop offset="0" stop-color="#3a3d40"/><stop offset=".3" stop-color="#2f3236"/><stop offset=".6" stop-color="#23272d"/><stop offset="1" stop-color="#151927"/></linearGradient>
<linearGradient id="rh" x1="0" y1="0" x2="1" y2="0"><stop offset="0" stop-color="#8d9699" stop-opacity=".8"/><stop offset=".025" stop-color="#3a3e46" stop-opacity=".3"/><stop offset=".35" stop-color="#222a3a" stop-opacity=".12"/><stop offset=".6" stop-color="#000" stop-opacity=".05"/><stop offset=".9" stop-color="#000" stop-opacity=".28"/><stop offset="1" stop-color="#000" stop-opacity=".4"/></linearGradient>
<radialGradient id="bt" cx=".5" cy=".5" r=".5"><stop offset="0" stop-color="#27282b"/><stop offset=".7" stop-color="#202124"/><stop offset=".88" stop-color="#17181a"/><stop offset="1" stop-color="#17181a" stop-opacity="0"/></radialGradient>
<filter id="sb" x="-5%" y="-5%" width="110%" height="110%"><feGaussianBlur stdDeviation="0.8"/></filter>
</defs>
<g fill="none" stroke-width="2">
<path d="M807.6 2408.3H880M1067.2 2409.3H981" stroke="#7d8285"/>
<path d="M811.3 2476.1H887" stroke="#1b1d20"/>
<path d="M808.2 2506.6H876M804.5 2541.1H889" stroke="#7d8285"/>
<path d="M804.5 2601.5H886" stroke="#1b1d20"/>
<path d="M1065.8 2447.5H984" stroke="#1b1d20"/>
<path d="M1068.2 2478.8H974" stroke="#7d8285"/>
<path d="M1068.2 2506.1H984" stroke="#1b1d20"/>
<path d="M1069 2541.4H984M1065.8 2571.6H984M1065.8 2600H984" stroke="#7d8285"/>
</g>
<g filter="url(#sb)">
<rect x="875.4" y="2374" width="108.4" height="428.4" fill="url(#rg)"/>
<rect x="875.4" y="2374" width="108.4" height="428.4" fill="url(#rh)"/>
<path d="M875.4 2374.3H983.8" stroke="#8b9295" stroke-width="1.2" opacity=".7"/>
<circle cx="895" cy="2386.3" r="2" fill="#08080a"/>
<circle cx="929.9" cy="2475.7" r="43.5" fill="#1d1e21"/>
<circle cx="929.9" cy="2475.7" r="40" fill="#222326"/>
<circle cx="929.9" cy="2474.5" r="21" fill="#1a1b1e"/>
<circle cx="930.5" cy="2475" r="18" fill="#232427"/>
<path d="M911 2480a19.5 19.5 0 0 1 24 -24" fill="none" stroke="#3c3e42" stroke-width="1.6"/>
<circle cx="903.7" cy="2410.9" r="16" fill="url(#bt)"/>
<circle cx="956.4" cy="2410.9" r="16" fill="url(#bt)"/>
<circle cx="903.7" cy="2542" r="16" fill="url(#bt)"/>
<circle cx="956.4" cy="2542" r="16" fill="url(#bt)"/>
<circle cx="929.9" cy="2569.8" r="16" fill="url(#bt)"/>
<circle cx="903.7" cy="2598" r="16" fill="url(#bt)"/>
<circle cx="956.4" cy="2598" r="16" fill="url(#bt)"/>
<path d="M903.7 2404.5V2417" stroke="#a4a7aa" stroke-width="2" fill="none"/>
<circle cx="956.4" cy="2410.9" r="5.6" stroke="#a4a7aa" stroke-width="1.8" fill="none"/>
<g fill="#a4a7aa">
<rect x="927.9" y="2441" width="4" height="9" rx="1.5"/><rect x="927.9" y="2500" width="4" height="9" rx="1.5"/>
<path d="M894 2476l6 -4v8zM901 2472h5v8h-5z"/><path d="M966 2476l-6 -4v8zM954 2472h5v8h-5z"/>
<path d="M922 2468a9 7 0 0 1 16 0l-3 2a6 5 0 0 0 -10 0z"/><rect x="927.5" y="2471" width="5" height="5"/><rect x="921" y="2477.5" width="18" height="4.5" rx="1"/>
<circle cx="903.7" cy="2542" r="7"/><circle cx="956.4" cy="2542" r="7"/>
</g>
<path d="M901 2537l5 5l-5 5" stroke="#1d1e22" stroke-width="2" fill="none"/><path d="M956.4 2535v14" stroke="#1d1e22" stroke-width="3.4"/>
<path d="M926.7 2563h6.4v10h-6.4zM929.9 2556v4M923 2558.5l2.5 3M936.8 2558.5l-2.5 3" stroke="#a4a7aa" stroke-width="1.8" fill="#a4a7aa"/>
<path d="M907 2591.5a7.5 7.5 0 1 1 -8.5 9a6.5 6.5 0 0 0 8.5 -9z" fill="#a4a7aa"/><circle cx="898.8" cy="2592.5" r="1.6" fill="#a4a7aa"/>
<rect x="950.4" y="2592" width="12" height="11.5" rx="2" fill="none" stroke="#a4a7aa" stroke-width="1.9"/><circle cx="957.2" cy="2596.8" r="2" fill="#a4a7aa"/>
<g fill="none" stroke="#0a0b0d" stroke-width="1.5">
<path d="M984 2447.5H944.5M984 2506.1H948.7M984 2571.6H957M876 2506.6H910V2481H928"/>
</g>
</g>
</g>
<g id="instructions">
<text x="397" y="1699" font-size="26.2" textLength="599" lengthAdjust="spacingAndGlyphs" stroke="#0c0c10" stroke-width="1.1" stroke-linejoin="round">Инструкция по привязке светильника к пульту</text>
<text x="397" y="1735" font-size="22.6" textLength="224.5" lengthAdjust="spacingAndGlyphs" stroke="#0c0c10" stroke-width="0.95" stroke-linejoin="round">1. Подготовка пульта</text>
<text x="397" y="1770" font-size="23" textLength="514" lengthAdjust="spacingAndGlyphs">— Распакуйте пульт дистанционного управления</text>
<text x="397" y="1805.3" font-size="23" textLength="824" lengthAdjust="spacingAndGlyphs">— Установите в пульт две батарейки типа ААА (батарейки в комплект не входят)</text>
<text x="397" y="1841" font-size="23" textLength="1055" lengthAdjust="spacingAndGlyphs">— Проверьте работу пульта — при нажатии на любую кнопку должен загораться индикатор на пульте</text>
<text x="397" y="1876.7" font-size="23" textLength="705.5" lengthAdjust="spacingAndGlyphs">— Пульт работает на расстоянии не более 20 метров от светильника</text>
<text x="397" y="1912.4" font-size="23" textLength="404" lengthAdjust="spacingAndGlyphs">— Протокол подключения пульта Wi-Fi</text>
<text x="397" y="1984.2" font-size="22.6" textLength="749" lengthAdjust="spacingAndGlyphs" stroke="#0c0c10" stroke-width="0.95" stroke-linejoin="round">2. Подключение пульта к светильнику (к которому не привязан пульт)</text>
<text x="397" y="2019.6" font-size="23" textLength="254.5" lengthAdjust="spacingAndGlyphs">— Включите светильник</text>
<text x="397" y="2054.4" font-size="23" textLength="1073.5" lengthAdjust="spacingAndGlyphs">— В течение трех секунд после включения светильника нажмите и держите в течение 5 секунд кнопку</text>
<text x="397" y="2084.6" font-size="23" textLength="390.5" lengthAdjust="spacingAndGlyphs">SETUP на пульте (кнопку сопряжения)</text>
<text x="397" y="2119.3" font-size="23" textLength="1065" lengthAdjust="spacingAndGlyphs">— Не отпускайте кнопку, пока светильник не моргнет 3 раза. Это будет значить, что пульт подключен</text>
<text x="397" y="2192" font-size="22.6" textLength="763" lengthAdjust="spacingAndGlyphs" stroke="#0c0c10" stroke-width="0.95" stroke-linejoin="round">3. Отключение пульта от светильника (к которому был привязан пульт)</text>
<text x="397" y="2226.5" font-size="23" textLength="254.5" lengthAdjust="spacingAndGlyphs">— Включите светильник</text>
<text x="397" y="2262.3" font-size="23" textLength="1073.5" lengthAdjust="spacingAndGlyphs">— В течение трех секунд после включения светильника нажмите и держите в течение 5 секунд кнопку</text>
<text x="397" y="2291.4" font-size="23" textLength="390.5" lengthAdjust="spacingAndGlyphs">SETUP на пульте (кнопку сопряжения)</text>
<text x="397" y="2326.6" font-size="23" textLength="1049.5" lengthAdjust="spacingAndGlyphs">— Не отпускайте кнопку, пока светильник не моргнет 3 раза. Это будет значить, что пульт отключен</text>
</g>
<g id="remote-labels">
<text x="796.5" y="2414.8" font-size="19" text-anchor="end" fill="#2a2a2a" textLength="99.8" lengthAdjust="spacingAndGlyphs">ВКЛЮЧИТЬ</text>
<text x="806.7" y="2483.2" font-size="19" text-anchor="end" textLength="420.5" lengthAdjust="spacingAndGlyphs" stroke="#0c0c10" stroke-width="0.35">ПОНИЗИТЬ ЦВЕТОВУЮ ТЕМПЕРАТУРУ 3000K&lt;&lt;'</text>
<text x="794.4" y="2513.1" font-size="19" text-anchor="end" fill="#2a2a2a" textLength="268" lengthAdjust="spacingAndGlyphs">КНОПКА СОПРЯЖЕНИЯ SETUP</text>
<text x="796.5" y="2546.4" font-size="19" text-anchor="end" fill="#2a2a2a" textLength="222.5" lengthAdjust="spacingAndGlyphs">ЦВЕТОВАЯ ТЕМПЕРАТУРА</text>
<text x="796.5" y="2571" font-size="19" text-anchor="end" fill="#2a2a2a" textLength="257.8" lengthAdjust="spacingAndGlyphs">3000K ИЛИ 4000K ИЛИ 6000K</text>
<text x="795.3" y="2610.1" font-size="19" text-anchor="end" textLength="282.8" lengthAdjust="spacingAndGlyphs" stroke="#0c0c10" stroke-width="0.35">НОЧНОЙ РЕЖИМ ЯРКОСТЬ 10%</text>
<text x="1080.5" y="2417.3" font-size="19" fill="#2a2a2a" textLength="116.5" lengthAdjust="spacingAndGlyphs">ВЫКЛЮЧИТЬ</text>
<text x="1080.5" y="2453.9" font-size="19" textLength="192.3" lengthAdjust="spacingAndGlyphs" stroke="#0c0c10" stroke-width="0.5">УВЕЛИЧИТЬ ЯРКОСТЬ</text>
<text x="1081.5" y="2484.1" font-size="19" fill="#2a2a2a" textLength="413.5" lengthAdjust="spacingAndGlyphs">ПОВЫСИТЬ ЦВЕТОВУЮ&gt;&gt;6000K ТЕМПЕРАТУРУ</text>
<text x="1081.5" y="2513.1" font-size="19" textLength="201.3" lengthAdjust="spacingAndGlyphs" stroke="#0c0c10" stroke-width="0.5">УМЕНЬШИТЬ ЯРКОСТЬ</text>
<text x="1080.5" y="2548" font-size="19" fill="#2a2a2a" textLength="311" lengthAdjust="spacingAndGlyphs">УРОВЕНЬ ЯРКОСТИ 50% ИЛИ 100%</text>
<text x="1079.8" y="2578" font-size="19" textLength="167.4" lengthAdjust="spacingAndGlyphs" stroke="#0c0c10" stroke-width="0.5">НЕ ИСПОЛЬЗУЕТСЯ</text>
<text x="1077.5" y="2611.2" font-size="19" fill="#2a2a2a" textLength="204.5" lengthAdjust="spacingAndGlyphs">ТАЙМЕР ОТКЛЮЧЕНИЯ</text>
<text x="1077.5" y="2630.2" font-size="19" fill="#2a2a2a" textLength="95.5" lengthAdjust="spacingAndGlyphs">60 СЕКУНД</text>
</g>
<text x="396.5" y="2913" font-size="47.5" textLength="179.7" lengthAdjust="spacingAndGlyphs" stroke="#0c0c10" stroke-width="1.5" stroke-linejoin="round">748123</text>
<text x="654.8" y="2913" font-size="47.5" textLength="178.7" lengthAdjust="spacingAndGlyphs" stroke="#0c0c10" stroke-width="1.5" stroke-linejoin="round">748127</text>
<g id="qr">
<path d="M394.5 2960.1h26.5M432.4 2960.1h11.4M451.3 2960.1h3.8M470.3 2960.1h7.6M481.6 2960.1h22.7M515.7 2960.1h3.8M523.3 2960.1h7.6M546.0 2960.1h3.8M553.6 2960.1h26.5M394.5 2963.9h3.8M417.2 2963.9h3.8M432.4 2963.9h11.4M451.3 2963.9h15.2M470.3 2963.9h3.8M477.8 2963.9h7.6M489.2 2963.9h3.8M496.8 2963.9h15.2M519.5 2963.9h3.8M527.1 2963.9h7.6M542.2 2963.9h3.8M553.6 2963.9h3.8M576.3 2963.9h3.8M394.5 2967.7h3.8M402.1 2967.7h11.4M417.2 2967.7h3.8M424.8 2967.7h7.6M440.0 2967.7h7.6M455.1 2967.7h3.8M470.3 2967.7h11.4M485.4 2967.7h3.8M493.0 2967.7h3.8M504.3 2967.7h7.6M515.7 2967.7h7.6M534.6 2967.7h3.8M542.2 2967.7h7.6M553.6 2967.7h3.8M561.2 2967.7h11.4M576.3 2967.7h3.8M394.5 2971.5h3.8M402.1 2971.5h11.4M417.2 2971.5h3.8M436.2 2971.5h3.8M443.7 2971.5h3.8M451.3 2971.5h3.8M458.9 2971.5h3.8M489.2 2971.5h3.8M504.3 2971.5h3.8M523.3 2971.5h3.8M534.6 2971.5h3.8M553.6 2971.5h3.8M561.2 2971.5h11.4M576.3 2971.5h3.8M394.5 2975.2h3.8M402.1 2975.2h11.4M417.2 2975.2h3.8M424.8 2975.2h11.4M440.0 2975.2h7.6M455.1 2975.2h3.8M462.7 2975.2h3.8M470.3 2975.2h37.9M523.3 2975.2h22.7M553.6 2975.2h3.8M561.2 2975.2h11.4M576.3 2975.2h3.8M394.5 2979.0h3.8M417.2 2979.0h3.8M424.8 2979.0h3.8M432.4 2979.0h11.4M447.5 2979.0h3.8M470.3 2979.0h11.4M493.0 2979.0h11.4M519.5 2979.0h3.8M530.9 2979.0h3.8M542.2 2979.0h7.6M553.6 2979.0h3.8M576.3 2979.0h3.8M394.5 2982.8h26.5M424.8 2982.8h3.8M432.4 2982.8h3.8M440.0 2982.8h3.8M447.5 2982.8h3.8M455.1 2982.8h3.8M462.7 2982.8h3.8M470.3 2982.8h3.8M477.8 2982.8h3.8M485.4 2982.8h3.8M493.0 2982.8h3.8M500.6 2982.8h3.8M508.1 2982.8h3.8M515.7 2982.8h3.8M523.3 2982.8h3.8M530.9 2982.8h3.8M538.4 2982.8h3.8M546.0 2982.8h3.8M553.6 2982.8h26.5M432.4 2986.6h3.8M443.7 2986.6h3.8M455.1 2986.6h3.8M462.7 2986.6h3.8M470.3 2986.6h3.8M477.8 2986.6h3.8M493.0 2986.6h3.8M504.3 2986.6h11.4M523.3 2986.6h3.8M530.9 2986.6h11.4M546.0 2986.6h3.8M398.3 2990.4h11.4M413.4 2990.4h7.6M443.7 2990.4h3.8M458.9 2990.4h7.6M470.3 2990.4h3.8M477.8 2990.4h22.7M504.3 2990.4h3.8M511.9 2990.4h7.6M523.3 2990.4h7.6M542.2 2990.4h3.8M561.2 2990.4h15.2M402.1 2994.2h11.4M424.8 2994.2h7.6M436.2 2994.2h3.8M443.7 2994.2h7.6M455.1 2994.2h3.8M462.7 2994.2h3.8M474.0 2994.2h7.6M485.4 2994.2h11.4M500.6 2994.2h3.8M523.3 2994.2h3.8M542.2 2994.2h3.8M561.2 2994.2h3.8M398.3 2998.0h3.8M405.9 2998.0h18.9M432.4 2998.0h3.8M443.7 2998.0h3.8M458.9 2998.0h3.8M481.6 2998.0h3.8M493.0 2998.0h26.5M549.8 2998.0h3.8M561.2 2998.0h3.8M568.7 2998.0h11.4M394.5 3001.8h3.8M402.1 3001.8h3.8M409.7 3001.8h3.8M421.0 3001.8h7.6M436.2 3001.8h3.8M443.7 3001.8h18.9M466.5 3001.8h3.8M477.8 3001.8h3.8M489.2 3001.8h3.8M496.8 3001.8h7.6M508.1 3001.8h3.8M523.3 3001.8h3.8M538.4 3001.8h3.8M546.0 3001.8h11.4M561.2 3001.8h7.6M572.5 3001.8h7.6M398.3 3005.5h3.8M417.2 3005.5h11.4M440.0 3005.5h7.6M466.5 3005.5h7.6M485.4 3005.5h15.2M504.3 3005.5h3.8M511.9 3005.5h7.6M530.9 3005.5h15.2M553.6 3005.5h7.6M572.5 3005.5h7.6M394.5 3009.3h3.8M402.1 3009.3h3.8M413.4 3009.3h3.8M428.6 3009.3h11.4M443.7 3009.3h7.6M455.1 3009.3h3.8M462.7 3009.3h3.8M470.3 3009.3h7.6M481.6 3009.3h7.6M496.8 3009.3h11.4M511.9 3009.3h7.6M538.4 3009.3h3.8M546.0 3009.3h11.4M564.9 3009.3h15.2M394.5 3013.1h11.4M417.2 3013.1h3.8M424.8 3013.1h3.8M436.2 3013.1h7.6M466.5 3013.1h3.8M477.8 3013.1h7.6M493.0 3013.1h3.8M500.6 3013.1h3.8M511.9 3013.1h7.6M530.9 3013.1h7.6M546.0 3013.1h3.8M564.9 3013.1h3.8M424.8 3016.9h11.4M443.7 3016.9h18.9M466.5 3016.9h11.4M485.4 3016.9h11.4M504.3 3016.9h18.9M530.9 3016.9h15.2M549.8 3016.9h3.8M561.2 3016.9h7.6M576.3 3016.9h3.8M402.1 3020.7h11.4M417.2 3020.7h7.6M432.4 3020.7h3.8M443.7 3020.7h15.2M470.3 3020.7h15.2M500.6 3020.7h3.8M508.1 3020.7h3.8M515.7 3020.7h3.8M530.9 3020.7h7.6M542.2 3020.7h11.4M564.9 3020.7h3.8M572.5 3020.7h3.8M394.5 3024.5h3.8M402.1 3024.5h3.8M413.4 3024.5h3.8M421.0 3024.5h18.9M443.7 3024.5h3.8M451.3 3024.5h11.4M474.0 3024.5h7.6M485.4 3024.5h3.8M493.0 3024.5h7.6M508.1 3024.5h3.8M515.7 3024.5h7.6M527.1 3024.5h11.4M542.2 3024.5h7.6M553.6 3024.5h3.8M568.7 3024.5h3.8M576.3 3024.5h3.8M394.5 3028.3h7.6M409.7 3028.3h11.4M424.8 3028.3h22.7M451.3 3028.3h3.8M470.3 3028.3h18.9M508.1 3028.3h11.4M523.3 3028.3h7.6M546.0 3028.3h3.8M561.2 3028.3h3.8M568.7 3028.3h3.8M405.9 3032.1h3.8M421.0 3032.1h7.6M436.2 3032.1h3.8M443.7 3032.1h11.4M458.9 3032.1h3.8M477.8 3032.1h3.8M496.8 3032.1h3.8M504.3 3032.1h3.8M511.9 3032.1h3.8M523.3 3032.1h3.8M530.9 3032.1h11.4M553.6 3032.1h3.8M564.9 3032.1h3.8M576.3 3032.1h3.8M394.5 3035.8h15.2M413.4 3035.8h11.4M428.6 3035.8h3.8M436.2 3035.8h3.8M443.7 3035.8h3.8M455.1 3035.8h7.6M477.8 3035.8h3.8M493.0 3035.8h7.6M515.7 3035.8h3.8M523.3 3035.8h7.6M549.8 3035.8h3.8M557.4 3035.8h11.4M572.5 3035.8h7.6M402.1 3039.6h15.2M436.2 3039.6h3.8M443.7 3039.6h3.8M458.9 3039.6h3.8M466.5 3039.6h3.8M477.8 3039.6h18.9M504.3 3039.6h7.6M515.7 3039.6h7.6M527.1 3039.6h7.6M542.2 3039.6h11.4M561.2 3039.6h3.8M568.7 3039.6h11.4M402.1 3043.4h3.8M409.7 3043.4h22.7M443.7 3043.4h3.8M455.1 3043.4h15.2M474.0 3043.4h22.7M508.1 3043.4h7.6M523.3 3043.4h3.8M530.9 3043.4h3.8M538.4 3043.4h3.8M546.0 3043.4h18.9M568.7 3043.4h7.6M394.5 3047.2h7.6M405.9 3047.2h7.6M424.8 3047.2h7.6M436.2 3047.2h7.6M451.3 3047.2h3.8M477.8 3047.2h3.8M493.0 3047.2h3.8M500.6 3047.2h7.6M519.5 3047.2h11.4M534.6 3047.2h7.6M546.0 3047.2h3.8M561.2 3047.2h18.9M394.5 3051.0h3.8M402.1 3051.0h3.8M409.7 3051.0h3.8M417.2 3051.0h3.8M424.8 3051.0h15.2M447.5 3051.0h3.8M455.1 3051.0h3.8M462.7 3051.0h11.4M477.8 3051.0h3.8M485.4 3051.0h3.8M493.0 3051.0h7.6M504.3 3051.0h7.6M519.5 3051.0h7.6M530.9 3051.0h7.6M542.2 3051.0h7.6M553.6 3051.0h3.8M561.2 3051.0h3.8M576.3 3051.0h3.8M394.5 3054.8h3.8M402.1 3054.8h11.4M424.8 3054.8h11.4M440.0 3054.8h7.6M462.7 3054.8h7.6M474.0 3054.8h7.6M493.0 3054.8h26.5M530.9 3054.8h11.4M546.0 3054.8h3.8M561.2 3054.8h7.6M576.3 3054.8h3.8M394.5 3058.6h7.6M405.9 3058.6h30.3M440.0 3058.6h3.8M451.3 3058.6h18.9M474.0 3058.6h26.5M508.1 3058.6h11.4M523.3 3058.6h7.6M534.6 3058.6h30.3M572.5 3058.6h3.8M398.3 3062.4h3.8M424.8 3062.4h45.5M474.0 3062.4h18.9M508.1 3062.4h26.5M538.4 3062.4h18.9M564.9 3062.4h3.8M572.5 3062.4h7.6M402.1 3066.2h3.8M417.2 3066.2h3.8M424.8 3066.2h11.4M443.7 3066.2h3.8M451.3 3066.2h7.6M462.7 3066.2h7.6M474.0 3066.2h11.4M489.2 3066.2h7.6M500.6 3066.2h11.4M534.6 3066.2h7.6M546.0 3066.2h3.8M568.7 3066.2h3.8M576.3 3066.2h3.8M398.3 3069.9h7.6M413.4 3069.9h3.8M421.0 3069.9h7.6M432.4 3069.9h15.2M451.3 3069.9h7.6M462.7 3069.9h7.6M477.8 3069.9h7.6M493.0 3069.9h3.8M500.6 3069.9h3.8M508.1 3069.9h7.6M530.9 3069.9h3.8M549.8 3069.9h7.6M561.2 3069.9h11.4M398.3 3073.7h3.8M405.9 3073.7h3.8M413.4 3073.7h7.6M424.8 3073.7h3.8M432.4 3073.7h11.4M451.3 3073.7h11.4M466.5 3073.7h11.4M485.4 3073.7h7.6M504.3 3073.7h3.8M519.5 3073.7h11.4M534.6 3073.7h18.9M557.4 3073.7h3.8M564.9 3073.7h15.2M394.5 3077.5h11.4M409.7 3077.5h7.6M421.0 3077.5h3.8M428.6 3077.5h3.8M436.2 3077.5h7.6M447.5 3077.5h7.6M466.5 3077.5h3.8M481.6 3077.5h3.8M493.0 3077.5h22.7M519.5 3077.5h3.8M527.1 3077.5h7.6M538.4 3077.5h3.8M557.4 3077.5h3.8M576.3 3077.5h3.8M398.3 3081.3h3.8M405.9 3081.3h3.8M413.4 3081.3h18.9M440.0 3081.3h3.8M447.5 3081.3h7.6M458.9 3081.3h11.4M474.0 3081.3h3.8M489.2 3081.3h22.7M515.7 3081.3h7.6M530.9 3081.3h3.8M538.4 3081.3h3.8M546.0 3081.3h3.8M553.6 3081.3h3.8M561.2 3081.3h7.6M572.5 3081.3h7.6M402.1 3085.1h11.4M424.8 3085.1h3.8M432.4 3085.1h3.8M458.9 3085.1h3.8M470.3 3085.1h3.8M477.8 3085.1h11.4M500.6 3085.1h3.8M508.1 3085.1h3.8M523.3 3085.1h7.6M538.4 3085.1h3.8M549.8 3085.1h3.8M557.4 3085.1h3.8M564.9 3085.1h7.6M413.4 3088.9h7.6M424.8 3088.9h3.8M432.4 3088.9h3.8M443.7 3088.9h7.6M455.1 3088.9h3.8M466.5 3088.9h7.6M496.8 3088.9h18.9M523.3 3088.9h11.4M546.0 3088.9h3.8M553.6 3088.9h3.8M568.7 3088.9h3.8M576.3 3088.9h3.8M394.5 3092.7h11.4M409.7 3092.7h3.8M421.0 3092.7h7.6M432.4 3092.7h11.4M451.3 3092.7h7.6M470.3 3092.7h15.2M489.2 3092.7h3.8M496.8 3092.7h7.6M511.9 3092.7h3.8M519.5 3092.7h3.8M527.1 3092.7h3.8M534.6 3092.7h3.8M546.0 3092.7h3.8M553.6 3092.7h3.8M564.9 3092.7h15.2M394.5 3096.5h3.8M402.1 3096.5h3.8M413.4 3096.5h11.4M428.6 3096.5h11.4M455.1 3096.5h3.8M462.7 3096.5h11.4M481.6 3096.5h3.8M493.0 3096.5h3.8M500.6 3096.5h15.2M534.6 3096.5h3.8M553.6 3096.5h11.4M568.7 3096.5h3.8M576.3 3096.5h3.8M394.5 3100.2h11.4M409.7 3100.2h7.6M428.6 3100.2h3.8M443.7 3100.2h11.4M466.5 3100.2h7.6M481.6 3100.2h3.8M489.2 3100.2h3.8M496.8 3100.2h3.8M504.3 3100.2h7.6M515.7 3100.2h3.8M523.3 3100.2h18.9M546.0 3100.2h3.8M553.6 3100.2h3.8M561.2 3100.2h3.8M572.5 3100.2h3.8M402.1 3104.0h11.4M417.2 3104.0h3.8M424.8 3104.0h3.8M432.4 3104.0h11.4M455.1 3104.0h18.9M477.8 3104.0h7.6M508.1 3104.0h7.6M519.5 3104.0h30.3M553.6 3104.0h3.8M564.9 3104.0h15.2M394.5 3107.8h11.4M409.7 3107.8h7.6M424.8 3107.8h3.8M436.2 3107.8h3.8M443.7 3107.8h7.6M458.9 3107.8h7.6M474.0 3107.8h15.2M493.0 3107.8h3.8M500.6 3107.8h7.6M511.9 3107.8h3.8M523.3 3107.8h7.6M542.2 3107.8h3.8M549.8 3107.8h3.8M568.7 3107.8h3.8M398.3 3111.6h3.8M405.9 3111.6h3.8M417.2 3111.6h7.6M428.6 3111.6h3.8M436.2 3111.6h18.9M458.9 3111.6h7.6M477.8 3111.6h18.9M500.6 3111.6h7.6M515.7 3111.6h3.8M523.3 3111.6h15.2M546.0 3111.6h18.9M568.7 3111.6h3.8M576.3 3111.6h3.8M424.8 3115.4h3.8M432.4 3115.4h3.8M440.0 3115.4h3.8M447.5 3115.4h7.6M462.7 3115.4h7.6M474.0 3115.4h7.6M493.0 3115.4h3.8M500.6 3115.4h11.4M515.7 3115.4h7.6M527.1 3115.4h3.8M542.2 3115.4h7.6M561.2 3115.4h3.8M568.7 3115.4h7.6M394.5 3119.2h26.5M432.4 3119.2h3.8M443.7 3119.2h11.4M458.9 3119.2h22.7M485.4 3119.2h3.8M493.0 3119.2h7.6M534.6 3119.2h7.6M546.0 3119.2h3.8M553.6 3119.2h3.8M561.2 3119.2h3.8M394.5 3123.0h3.8M417.2 3123.0h3.8M424.8 3123.0h3.8M432.4 3123.0h3.8M440.0 3123.0h3.8M447.5 3123.0h3.8M455.1 3123.0h7.6M477.8 3123.0h3.8M493.0 3123.0h3.8M500.6 3123.0h11.4M515.7 3123.0h15.2M542.2 3123.0h7.6M561.2 3123.0h3.8M394.5 3126.8h3.8M402.1 3126.8h11.4M417.2 3126.8h3.8M432.4 3126.8h7.6M447.5 3126.8h7.6M477.8 3126.8h34.1M515.7 3126.8h3.8M527.1 3126.8h3.8M534.6 3126.8h7.6M546.0 3126.8h26.5M576.3 3126.8h3.8M394.5 3130.5h3.8M402.1 3130.5h11.4M417.2 3130.5h3.8M436.2 3130.5h3.8M443.7 3130.5h11.4M458.9 3130.5h7.6M474.0 3130.5h7.6M489.2 3130.5h3.8M496.8 3130.5h7.6M511.9 3130.5h3.8M519.5 3130.5h15.2M538.4 3130.5h7.6M557.4 3130.5h3.8M564.9 3130.5h3.8M576.3 3130.5h3.8M394.5 3134.3h3.8M402.1 3134.3h11.4M417.2 3134.3h3.8M424.8 3134.3h3.8M432.4 3134.3h26.5M481.6 3134.3h15.2M508.1 3134.3h7.6M519.5 3134.3h3.8M530.9 3134.3h3.8M542.2 3134.3h7.6M557.4 3134.3h3.8M564.9 3134.3h15.2M394.5 3138.1h3.8M417.2 3138.1h3.8M424.8 3138.1h18.9M447.5 3138.1h7.6M458.9 3138.1h7.6M474.0 3138.1h3.8M481.6 3138.1h7.6M493.0 3138.1h3.8M508.1 3138.1h3.8M519.5 3138.1h7.6M530.9 3138.1h3.8M538.4 3138.1h3.8M546.0 3138.1h7.6M557.4 3138.1h3.8M564.9 3138.1h3.8M576.3 3138.1h3.8M394.5 3141.9h26.5M424.8 3141.9h3.8M436.2 3141.9h11.4M451.3 3141.9h3.8M462.7 3141.9h3.8M474.0 3141.9h3.8M485.4 3141.9h11.4M504.3 3141.9h11.4M549.8 3141.9h3.8M557.4 3141.9h7.6M568.7 3141.9h3.8M576.3 3141.9h3.8" stroke="#15151a" stroke-width="3.94" fill="none"/>
<path d="M653.0 2960.1h26.5M683.3 2960.1h15.2M702.3 2960.1h3.8M709.9 2960.1h3.8M717.5 2960.1h15.2M740.2 2960.1h3.8M747.8 2960.1h3.8M755.4 2960.1h7.6M785.7 2960.1h3.8M797.1 2960.1h3.8M804.7 2960.1h3.8M812.3 2960.1h26.5M653.0 2963.9h3.8M675.8 2963.9h3.8M683.3 2963.9h7.6M694.7 2963.9h3.8M706.1 2963.9h7.6M732.6 2963.9h7.6M755.4 2963.9h41.7M804.7 2963.9h3.8M812.3 2963.9h3.8M835.0 2963.9h3.8M653.0 2967.7h3.8M660.6 2967.7h11.4M675.8 2967.7h3.8M683.3 2967.7h3.8M690.9 2967.7h11.4M709.9 2967.7h15.2M732.6 2967.7h3.8M744.0 2967.7h11.4M759.2 2967.7h3.8M770.5 2967.7h7.6M781.9 2967.7h3.8M793.3 2967.7h15.2M812.3 2967.7h3.8M819.8 2967.7h11.4M835.0 2967.7h3.8M653.0 2971.5h3.8M660.6 2971.5h11.4M675.8 2971.5h3.8M683.3 2971.5h7.6M706.1 2971.5h7.6M725.0 2971.5h11.4M744.0 2971.5h3.8M755.4 2971.5h7.6M778.1 2971.5h3.8M785.7 2971.5h3.8M793.3 2971.5h3.8M800.9 2971.5h3.8M812.3 2971.5h3.8M819.8 2971.5h11.4M835.0 2971.5h3.8M653.0 2975.3h3.8M660.6 2975.3h11.4M675.8 2975.3h3.8M683.3 2975.3h7.6M694.7 2975.3h3.8M713.7 2975.3h3.8M721.3 2975.3h7.6M736.4 2975.3h19.0M763.0 2975.3h3.8M770.5 2975.3h7.6M781.9 2975.3h3.8M789.5 2975.3h7.6M804.7 2975.3h3.8M812.3 2975.3h3.8M819.8 2975.3h11.4M835.0 2975.3h3.8M653.0 2979.1h3.8M675.8 2979.1h3.8M683.3 2979.1h3.8M702.3 2979.1h3.8M709.9 2979.1h3.8M717.5 2979.1h7.6M736.4 2979.1h3.8M751.6 2979.1h3.8M759.2 2979.1h34.1M800.9 2979.1h7.6M812.3 2979.1h3.8M835.0 2979.1h3.8M653.0 2982.8h26.5M683.3 2982.8h3.8M690.9 2982.8h3.8M698.5 2982.8h3.8M706.1 2982.8h3.8M713.7 2982.8h3.8M721.3 2982.8h3.8M728.8 2982.8h3.8M736.4 2982.8h3.8M744.0 2982.8h3.8M751.6 2982.8h3.8M759.2 2982.8h3.8M766.8 2982.8h3.8M774.3 2982.8h3.8M781.9 2982.8h3.8M789.5 2982.8h3.8M797.1 2982.8h3.8M804.7 2982.8h3.8M812.3 2982.8h26.5M687.1 2986.6h3.8M694.7 2986.6h11.4M709.9 2986.6h3.8M717.5 2986.6h3.8M732.6 2986.6h7.6M751.6 2986.6h7.6M763.0 2986.6h15.2M789.5 2986.6h3.8M797.1 2986.6h3.8M653.0 2990.4h7.6M668.2 2990.4h15.2M687.1 2990.4h3.8M694.7 2990.4h7.6M709.9 2990.4h7.6M721.3 2990.4h3.8M736.4 2990.4h26.5M774.3 2990.4h7.6M785.7 2990.4h11.4M800.9 2990.4h19.0M827.4 2990.4h3.8M683.3 2994.2h3.8M702.3 2994.2h3.8M709.9 2994.2h3.8M717.5 2994.2h7.6M732.6 2994.2h3.8M747.8 2994.2h11.4M770.5 2994.2h3.8M781.9 2994.2h15.2M804.7 2994.2h7.6M816.0 2994.2h15.2M653.0 2998.0h3.8M660.6 2998.0h3.8M675.8 2998.0h7.6M698.5 2998.0h26.5M728.8 2998.0h3.8M736.4 2998.0h7.6M755.4 2998.0h7.6M770.5 2998.0h11.4M785.7 2998.0h7.6M808.5 2998.0h11.4M823.6 2998.0h15.2M653.0 3001.8h3.8M668.2 3001.8h3.8M679.5 3001.8h3.8M687.1 3001.8h15.2M709.9 3001.8h3.8M717.5 3001.8h15.2M736.4 3001.8h7.6M751.6 3001.8h7.6M763.0 3001.8h3.8M770.5 3001.8h7.6M781.9 3001.8h11.4M800.9 3001.8h22.8M827.4 3001.8h11.4M656.8 3005.6h7.6M668.2 3005.6h15.2M694.7 3005.6h3.8M706.1 3005.6h3.8M717.5 3005.6h7.6M732.6 3005.6h15.2M755.4 3005.6h7.6M766.8 3005.6h3.8M778.1 3005.6h7.6M804.7 3005.6h7.6M819.8 3005.6h7.6M835.0 3005.6h3.8M653.0 3009.4h3.8M660.6 3009.4h7.6M679.5 3009.4h3.8M694.7 3009.4h11.4M713.7 3009.4h3.8M721.3 3009.4h3.8M728.8 3009.4h3.8M755.4 3009.4h3.8M763.0 3009.4h11.4M778.1 3009.4h3.8M793.3 3009.4h3.8M800.9 3009.4h19.0M823.6 3009.4h3.8M656.8 3013.2h7.6M672.0 3013.2h7.6M687.1 3013.2h3.8M694.7 3013.2h19.0M725.0 3013.2h3.8M747.8 3013.2h3.8M766.8 3013.2h11.4M785.7 3013.2h7.6M804.7 3013.2h11.4M819.8 3013.2h19.0M656.8 3017.0h11.4M690.9 3017.0h3.8M713.7 3017.0h26.5M744.0 3017.0h3.8M755.4 3017.0h3.8M763.0 3017.0h3.8M770.5 3017.0h3.8M781.9 3017.0h7.6M797.1 3017.0h26.5M831.2 3017.0h7.6M660.6 3020.8h3.8M672.0 3020.8h11.4M687.1 3020.8h3.8M694.7 3020.8h3.8M702.3 3020.8h3.8M709.9 3020.8h7.6M721.3 3020.8h11.4M736.4 3020.8h7.6M751.6 3020.8h7.6M770.5 3020.8h3.8M778.1 3020.8h7.6M789.5 3020.8h7.6M800.9 3020.8h3.8M812.3 3020.8h3.8M823.6 3020.8h3.8M831.2 3020.8h3.8M653.0 3024.6h3.8M664.4 3024.6h3.8M672.0 3024.6h3.8M679.5 3024.6h3.8M687.1 3024.6h3.8M702.3 3024.6h3.8M713.7 3024.6h11.4M728.8 3024.6h3.8M744.0 3024.6h30.3M778.1 3024.6h11.4M797.1 3024.6h3.8M808.5 3024.6h11.4M823.6 3024.6h3.8M656.8 3028.3h3.8M675.8 3028.3h3.8M687.1 3028.3h7.6M698.5 3028.3h7.6M736.4 3028.3h15.2M755.4 3028.3h7.6M770.5 3028.3h7.6M781.9 3028.3h3.8M793.3 3028.3h15.2M835.0 3028.3h3.8M653.0 3032.1h3.8M660.6 3032.1h11.4M679.5 3032.1h11.4M698.5 3032.1h22.8M725.0 3032.1h3.8M732.6 3032.1h3.8M755.4 3032.1h3.8M766.8 3032.1h7.6M778.1 3032.1h7.6M797.1 3032.1h3.8M808.5 3032.1h15.2M827.4 3032.1h11.4M664.4 3035.9h19.0M687.1 3035.9h3.8M698.5 3035.9h19.0M721.3 3035.9h7.6M736.4 3035.9h11.4M759.2 3035.9h3.8M766.8 3035.9h15.2M793.3 3035.9h3.8M800.9 3035.9h19.0M831.2 3035.9h3.8M672.0 3039.7h3.8M683.3 3039.7h3.8M694.7 3039.7h3.8M706.1 3039.7h7.6M721.3 3039.7h3.8M736.4 3039.7h3.8M751.6 3039.7h3.8M759.2 3039.7h7.6M774.3 3039.7h3.8M785.7 3039.7h15.2M804.7 3039.7h7.6M819.8 3039.7h7.6M656.8 3043.5h3.8M668.2 3043.5h22.8M698.5 3043.5h15.2M717.5 3043.5h3.8M732.6 3043.5h22.8M759.2 3043.5h11.4M778.1 3043.5h11.4M797.1 3043.5h3.8M804.7 3043.5h19.0M831.2 3043.5h7.6M653.0 3047.3h3.8M660.6 3047.3h3.8M668.2 3047.3h3.8M683.3 3047.3h3.8M698.5 3047.3h15.2M736.4 3047.3h3.8M751.6 3047.3h3.8M770.5 3047.3h3.8M789.5 3047.3h11.4M804.7 3047.3h3.8M819.8 3047.3h3.8M827.4 3047.3h7.6M653.0 3051.1h7.6M664.4 3051.1h7.6M675.8 3051.1h3.8M683.3 3051.1h3.8M702.3 3051.1h11.4M717.5 3051.1h7.6M728.8 3051.1h3.8M736.4 3051.1h3.8M744.0 3051.1h3.8M751.6 3051.1h3.8M763.0 3051.1h3.8M770.5 3051.1h3.8M785.7 3051.1h7.6M804.7 3051.1h3.8M812.3 3051.1h3.8M819.8 3051.1h19.0M660.6 3054.9h11.4M683.3 3054.9h15.2M706.1 3054.9h3.8M713.7 3054.9h26.5M751.6 3054.9h7.6M763.0 3054.9h3.8M770.5 3054.9h7.6M785.7 3054.9h7.6M797.1 3054.9h3.8M804.7 3054.9h3.8M819.8 3054.9h3.8M827.4 3054.9h3.8M653.0 3058.7h7.6M668.2 3058.7h30.3M702.3 3058.7h3.8M709.9 3058.7h11.4M725.0 3058.7h7.6M736.4 3058.7h19.0M759.2 3058.7h3.8M766.8 3058.7h3.8M789.5 3058.7h3.8M804.7 3058.7h22.8M831.2 3058.7h3.8M656.8 3062.5h11.4M672.0 3062.5h3.8M690.9 3062.5h3.8M702.3 3062.5h7.6M717.5 3062.5h3.8M736.4 3062.5h7.6M747.8 3062.5h3.8M755.4 3062.5h19.0M781.9 3062.5h7.6M797.1 3062.5h3.8M812.3 3062.5h7.6M823.6 3062.5h7.6M653.0 3066.3h3.8M660.6 3066.3h3.8M668.2 3066.3h3.8M675.8 3066.3h15.2M694.7 3066.3h3.8M702.3 3066.3h3.8M709.9 3066.3h7.6M721.3 3066.3h11.4M736.4 3066.3h11.4M766.8 3066.3h11.4M781.9 3066.3h3.8M804.7 3066.3h3.8M812.3 3066.3h3.8M819.8 3066.3h3.8M827.4 3066.3h11.4M653.0 3070.1h15.2M672.0 3070.1h3.8M683.3 3070.1h3.8M690.9 3070.1h3.8M698.5 3070.1h3.8M713.7 3070.1h3.8M721.3 3070.1h7.6M736.4 3070.1h3.8M744.0 3070.1h7.6M759.2 3070.1h15.2M785.7 3070.1h3.8M797.1 3070.1h19.0M823.6 3070.1h7.6M656.8 3073.9h3.8M664.4 3073.9h3.8M672.0 3073.9h11.4M694.7 3073.9h7.6M706.1 3073.9h3.8M725.0 3073.9h3.8M747.8 3073.9h11.4M763.0 3073.9h7.6M778.1 3073.9h11.4M797.1 3073.9h7.6M808.5 3073.9h3.8M816.0 3073.9h3.8M823.6 3073.9h3.8M831.2 3073.9h7.6M653.0 3077.6h7.6M683.3 3077.6h3.8M694.7 3077.6h7.6M717.5 3077.6h3.8M725.0 3077.6h3.8M736.4 3077.6h7.6M747.8 3077.6h7.6M763.0 3077.6h3.8M770.5 3077.6h3.8M778.1 3077.6h7.6M793.3 3077.6h3.8M800.9 3077.6h3.8M812.3 3077.6h3.8M823.6 3077.6h3.8M831.2 3077.6h7.6M664.4 3081.4h7.6M675.8 3081.4h3.8M683.3 3081.4h3.8M690.9 3081.4h3.8M702.3 3081.4h7.6M713.7 3081.4h7.6M728.8 3081.4h3.8M740.2 3081.4h3.8M751.6 3081.4h22.8M781.9 3081.4h11.4M800.9 3081.4h7.6M812.3 3081.4h3.8M823.6 3081.4h3.8M835.0 3081.4h3.8M653.0 3085.2h7.6M672.0 3085.2h3.8M679.5 3085.2h3.8M687.1 3085.2h11.4M702.3 3085.2h3.8M709.9 3085.2h3.8M725.0 3085.2h3.8M732.6 3085.2h3.8M740.2 3085.2h30.3M774.3 3085.2h7.6M793.3 3085.2h3.8M808.5 3085.2h7.6M819.8 3085.2h3.8M827.4 3085.2h11.4M653.0 3089.0h7.6M664.4 3089.0h3.8M675.8 3089.0h7.6M702.3 3089.0h3.8M725.0 3089.0h3.8M747.8 3089.0h11.4M763.0 3089.0h11.4M781.9 3089.0h3.8M793.3 3089.0h3.8M808.5 3089.0h3.8M819.8 3089.0h3.8M831.2 3089.0h7.6M653.0 3092.8h7.6M672.0 3092.8h3.8M679.5 3092.8h11.4M698.5 3092.8h15.2M728.8 3092.8h3.8M740.2 3092.8h11.4M778.1 3092.8h7.6M789.5 3092.8h3.8M797.1 3092.8h3.8M808.5 3092.8h3.8M816.0 3092.8h7.6M831.2 3092.8h3.8M653.0 3096.6h26.5M683.3 3096.6h3.8M690.9 3096.6h7.6M706.1 3096.6h3.8M713.7 3096.6h3.8M721.3 3096.6h3.8M744.0 3096.6h7.6M774.3 3096.6h3.8M781.9 3096.6h11.4M797.1 3096.6h3.8M816.0 3096.6h3.8M827.4 3096.6h11.4M660.6 3100.4h7.6M672.0 3100.4h3.8M683.3 3100.4h7.6M702.3 3100.4h3.8M713.7 3100.4h3.8M725.0 3100.4h3.8M732.6 3100.4h7.6M744.0 3100.4h3.8M759.2 3100.4h3.8M774.3 3100.4h3.8M781.9 3100.4h22.8M812.3 3100.4h11.4M831.2 3100.4h3.8M656.8 3104.2h3.8M664.4 3104.2h3.8M675.8 3104.2h3.8M687.1 3104.2h3.8M694.7 3104.2h11.4M728.8 3104.2h7.6M744.0 3104.2h3.8M755.4 3104.2h19.0M785.7 3104.2h7.6M797.1 3104.2h3.8M804.7 3104.2h11.4M831.2 3104.2h7.6M660.6 3108.0h7.6M672.0 3108.0h3.8M679.5 3108.0h7.6M690.9 3108.0h7.6M706.1 3108.0h3.8M713.7 3108.0h7.6M728.8 3108.0h7.6M740.2 3108.0h7.6M751.6 3108.0h3.8M763.0 3108.0h11.4M778.1 3108.0h7.6M793.3 3108.0h11.4M808.5 3108.0h3.8M816.0 3108.0h3.8M823.6 3108.0h3.8M835.0 3108.0h3.8M660.6 3111.8h3.8M668.2 3111.8h15.2M687.1 3111.8h7.6M698.5 3111.8h3.8M706.1 3111.8h3.8M732.6 3111.8h37.9M774.3 3111.8h3.8M781.9 3111.8h3.8M793.3 3111.8h34.1M831.2 3111.8h3.8M683.3 3115.6h3.8M690.9 3115.6h7.6M702.3 3115.6h15.2M721.3 3115.6h19.0M751.6 3115.6h3.8M763.0 3115.6h7.6M774.3 3115.6h11.4M789.5 3115.6h7.6M804.7 3115.6h3.8M819.8 3115.6h3.8M827.4 3115.6h3.8M835.0 3115.6h3.8M653.0 3119.4h26.5M683.3 3119.4h3.8M690.9 3119.4h3.8M709.9 3119.4h19.0M736.4 3119.4h3.8M744.0 3119.4h3.8M751.6 3119.4h7.6M766.8 3119.4h7.6M778.1 3119.4h7.6M797.1 3119.4h3.8M804.7 3119.4h3.8M812.3 3119.4h3.8M819.8 3119.4h19.0M653.0 3123.1h3.8M675.8 3123.1h3.8M690.9 3123.1h7.6M702.3 3123.1h3.8M709.9 3123.1h11.4M728.8 3123.1h11.4M751.6 3123.1h11.4M766.8 3123.1h15.2M789.5 3123.1h19.0M819.8 3123.1h3.8M827.4 3123.1h3.8M835.0 3123.1h3.8M653.0 3126.9h3.8M660.6 3126.9h11.4M675.8 3126.9h3.8M683.3 3126.9h3.8M690.9 3126.9h3.8M702.3 3126.9h3.8M713.7 3126.9h11.4M736.4 3126.9h19.0M759.2 3126.9h11.4M778.1 3126.9h19.0M804.7 3126.9h19.0M653.0 3130.7h3.8M660.6 3130.7h11.4M675.8 3130.7h3.8M683.3 3130.7h3.8M702.3 3130.7h15.2M721.3 3130.7h3.8M732.6 3130.7h3.8M740.2 3130.7h11.4M770.5 3130.7h3.8M785.7 3130.7h3.8M819.8 3130.7h15.2M653.0 3134.5h3.8M660.6 3134.5h11.4M675.8 3134.5h3.8M683.3 3134.5h7.6M694.7 3134.5h3.8M702.3 3134.5h7.6M717.5 3134.5h3.8M725.0 3134.5h3.8M732.6 3134.5h7.6M744.0 3134.5h3.8M751.6 3134.5h11.4M774.3 3134.5h19.0M804.7 3134.5h26.5M835.0 3134.5h3.8M653.0 3138.3h3.8M675.8 3138.3h3.8M694.7 3138.3h3.8M702.3 3138.3h3.8M717.5 3138.3h7.6M732.6 3138.3h3.8M744.0 3138.3h3.8M759.2 3138.3h19.0M781.9 3138.3h15.2M808.5 3138.3h3.8M816.0 3138.3h11.4M831.2 3138.3h3.8M653.0 3142.1h26.5M690.9 3142.1h7.6M706.1 3142.1h3.8M713.7 3142.1h7.6M725.0 3142.1h7.6M740.2 3142.1h7.6M751.6 3142.1h15.2M774.3 3142.1h7.6M789.5 3142.1h3.8M797.1 3142.1h11.4M831.2 3142.1h7.6" stroke="#15151a" stroke-width="3.94" fill="none"/>
</g>
<g id="notes">
<text x="907" y="2997" font-size="34" textLength="380" lengthAdjust="spacingAndGlyphs">1. Светильник работает</text>
<text x="907.6" y="3041.3" font-size="34" textLength="493" lengthAdjust="spacingAndGlyphs">от сетевого напряжения 230В.</text>
<text x="907.6" y="3085.3" font-size="34" textLength="572" lengthAdjust="spacingAndGlyphs">2. Всегда выключайте напряжение,</text>
<text x="907.6" y="3129.6" font-size="34" textLength="560.5" lengthAdjust="spacingAndGlyphs">когда устанавливаете светильник.</text>
</g>
<text x="987.5" y="3381.1" font-size="65.5" font-weight="700" textLength="517" lengthAdjust="spacingAndGlyphs" stroke="#0c0c10" stroke-width="1.6" stroke-linejoin="round">www.lightstar.ru</text>
</svg>
</body>
</html>
